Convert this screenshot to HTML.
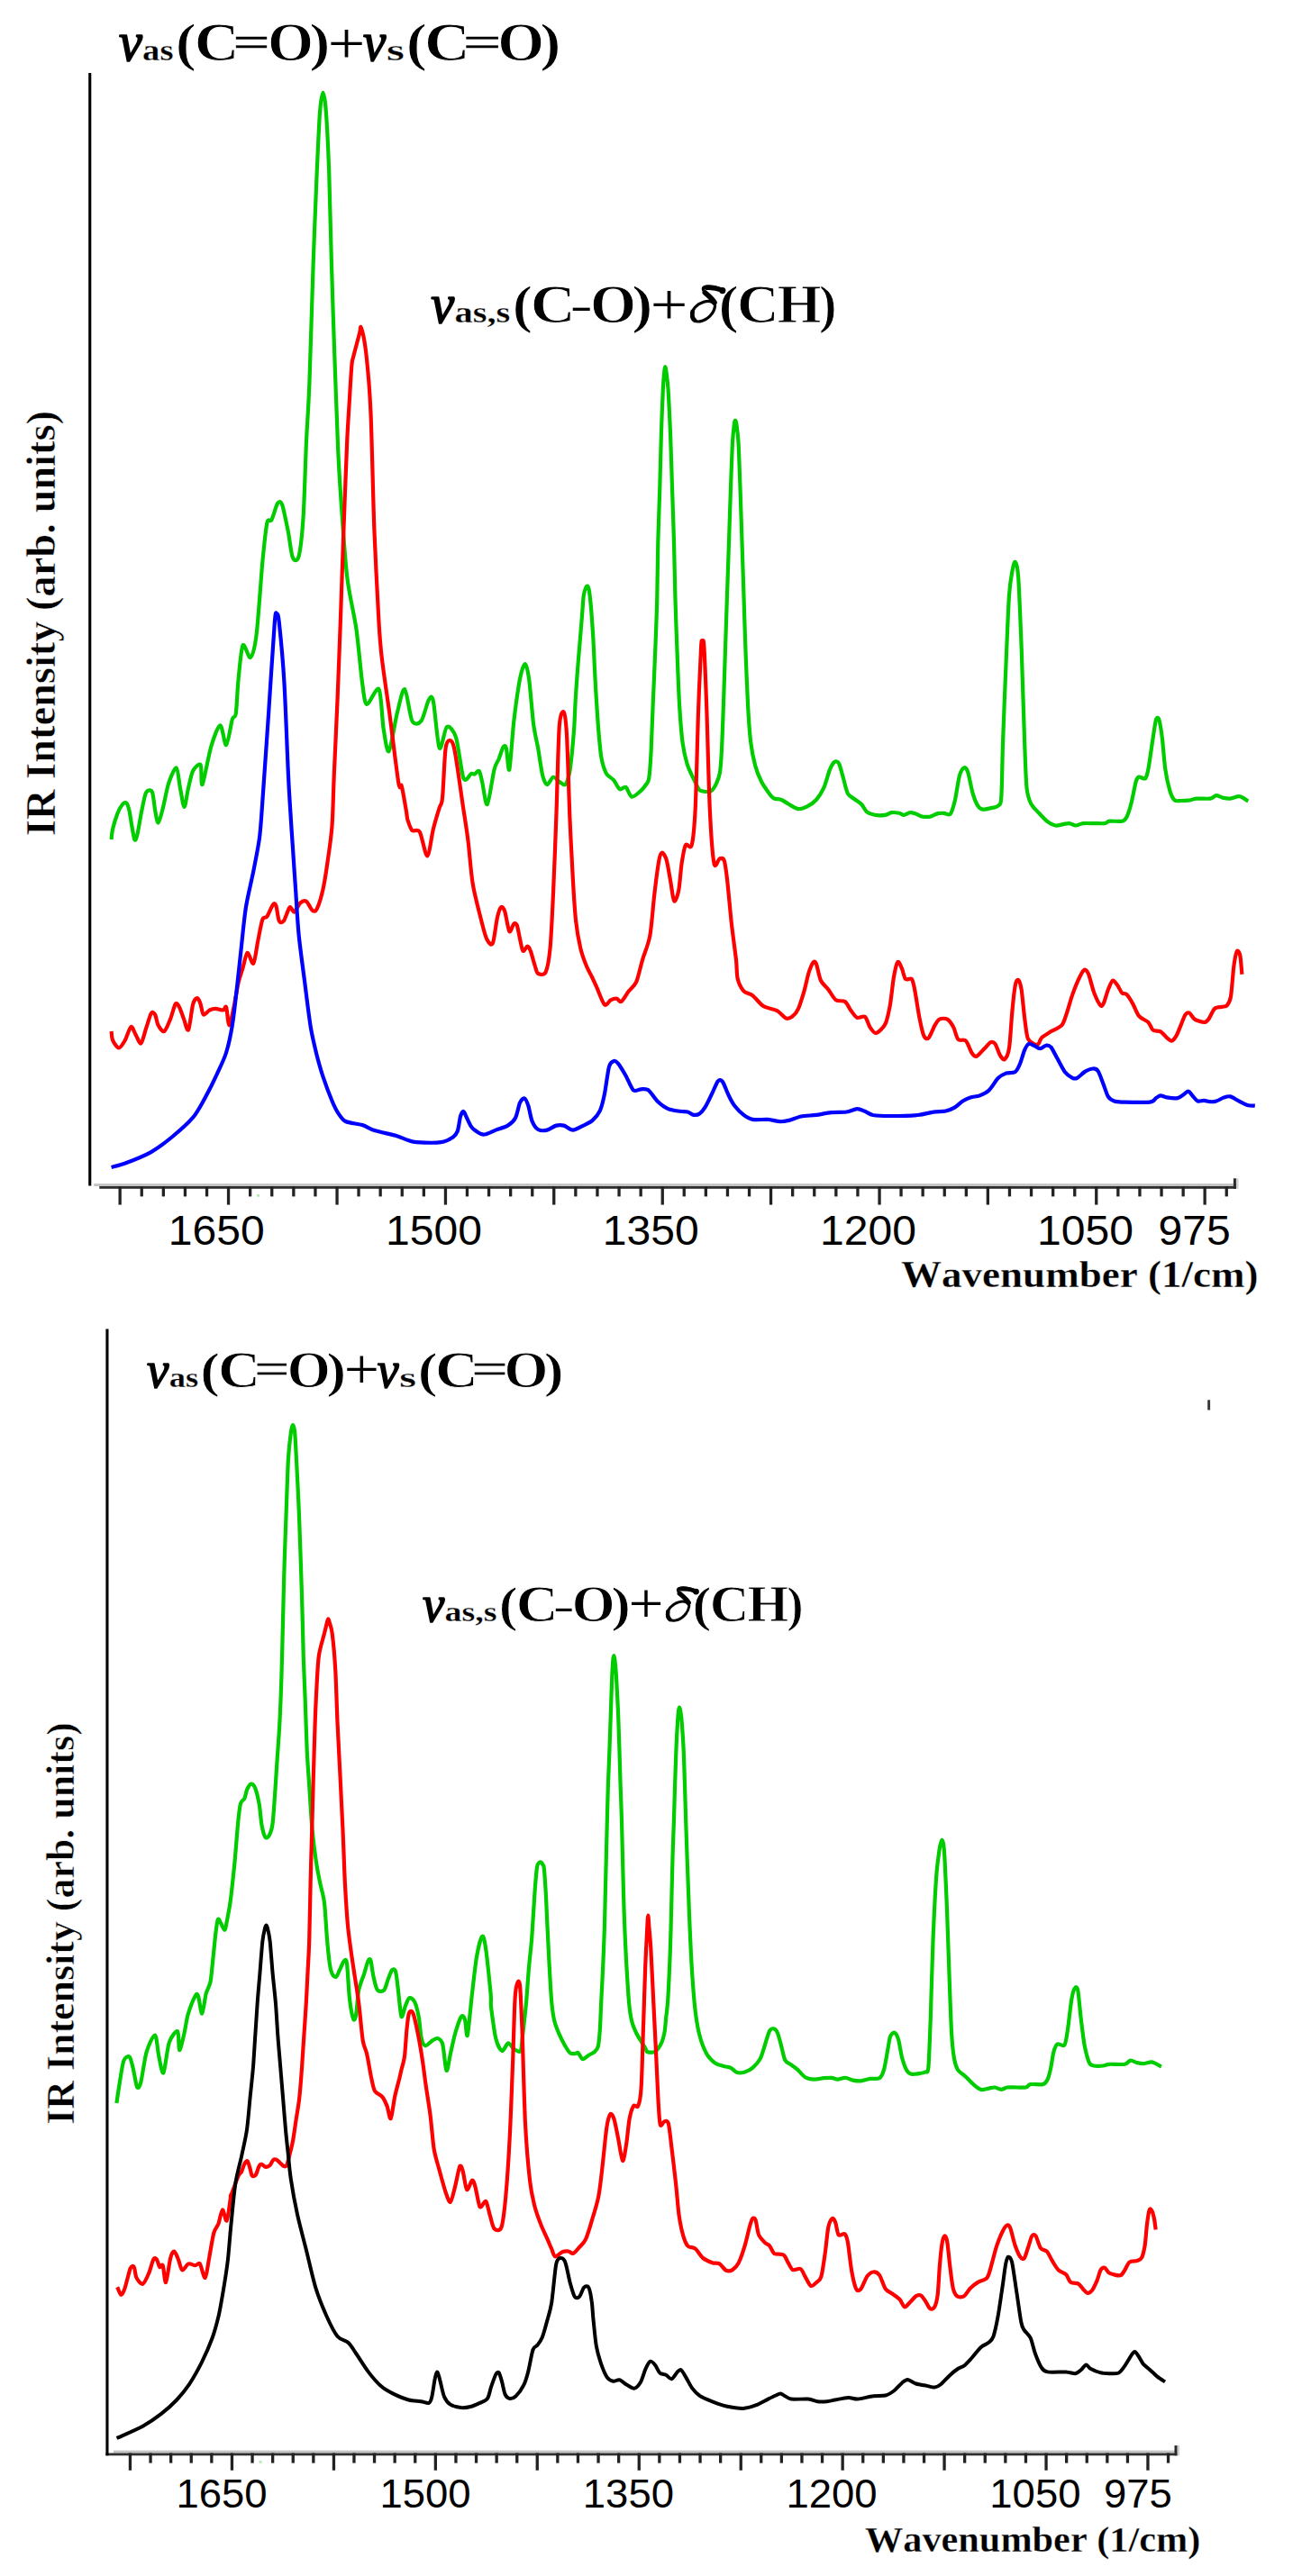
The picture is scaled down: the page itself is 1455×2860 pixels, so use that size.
<!DOCTYPE html>
<html><head><meta charset="utf-8"><title>IR spectra</title>
<style>
html,body{margin:0;padding:0;background:#fff;}
svg{display:block;}
text{font-family:"Liberation Serif",serif;fill:#000;}
.sb{font-family:"Liberation Serif",serif;font-weight:bold;}
.sbi{font-family:"Liberation Serif",serif;font-weight:bold;font-style:italic;}
.si{font-family:"Liberation Serif",serif;font-style:italic;}
.ss{font-family:"Liberation Sans",sans-serif;}
.sr{font-family:"Liberation Serif",serif;}
text{font-kerning:none;}
.c{fill:none;stroke-linejoin:round;stroke-linecap:butt;}
</style></head><body>
<svg width="1455" height="2860" viewBox="0 0 1455 2860">
<rect x="0" y="0" width="1455" height="2860" fill="#ffffff"/>
<rect x="104.2" y="1314.1" width="1267.7" height="2.9" fill="#c3c3c3"/>
<rect x="110.3" y="1317.0" width="1261.6" height="2.8" fill="#2e2e2e"/>
<rect x="131.5" y="1317.0" width="3.3" height="20.6" fill="#222"/>
<rect x="155.6" y="1317.0" width="3.3" height="11.4" fill="#222"/>
<rect x="179.7" y="1317.0" width="3.3" height="11.4" fill="#222"/>
<rect x="203.8" y="1317.0" width="3.3" height="11.4" fill="#222"/>
<rect x="227.9" y="1317.0" width="3.3" height="11.4" fill="#222"/>
<rect x="251.9" y="1317.0" width="3.3" height="20.6" fill="#222"/>
<rect x="276.0" y="1317.0" width="3.3" height="11.4" fill="#222"/>
<rect x="300.1" y="1317.0" width="3.3" height="11.4" fill="#222"/>
<rect x="324.2" y="1317.0" width="3.3" height="11.4" fill="#222"/>
<rect x="348.3" y="1317.0" width="3.3" height="11.4" fill="#222"/>
<rect x="372.4" y="1317.0" width="3.3" height="20.6" fill="#222"/>
<rect x="396.4" y="1317.0" width="3.3" height="11.4" fill="#222"/>
<rect x="420.5" y="1317.0" width="3.3" height="11.4" fill="#222"/>
<rect x="444.6" y="1317.0" width="3.3" height="11.4" fill="#222"/>
<rect x="468.7" y="1317.0" width="3.3" height="11.4" fill="#222"/>
<rect x="492.8" y="1317.0" width="3.3" height="20.6" fill="#222"/>
<rect x="516.8" y="1317.0" width="3.3" height="11.4" fill="#222"/>
<rect x="540.9" y="1317.0" width="3.3" height="11.4" fill="#222"/>
<rect x="565.0" y="1317.0" width="3.3" height="11.4" fill="#222"/>
<rect x="589.1" y="1317.0" width="3.3" height="11.4" fill="#222"/>
<rect x="613.1" y="1317.0" width="3.3" height="20.6" fill="#222"/>
<rect x="637.2" y="1317.0" width="3.3" height="11.4" fill="#222"/>
<rect x="661.3" y="1317.0" width="3.3" height="11.4" fill="#222"/>
<rect x="685.4" y="1317.0" width="3.3" height="11.4" fill="#222"/>
<rect x="709.5" y="1317.0" width="3.3" height="11.4" fill="#222"/>
<rect x="733.6" y="1317.0" width="3.3" height="20.6" fill="#222"/>
<rect x="757.6" y="1317.0" width="3.3" height="11.4" fill="#222"/>
<rect x="781.7" y="1317.0" width="3.3" height="11.4" fill="#222"/>
<rect x="805.8" y="1317.0" width="3.3" height="11.4" fill="#222"/>
<rect x="829.9" y="1317.0" width="3.3" height="11.4" fill="#222"/>
<rect x="853.9" y="1317.0" width="3.3" height="20.6" fill="#222"/>
<rect x="878.0" y="1317.0" width="3.3" height="11.4" fill="#222"/>
<rect x="902.1" y="1317.0" width="3.3" height="11.4" fill="#222"/>
<rect x="926.2" y="1317.0" width="3.3" height="11.4" fill="#222"/>
<rect x="950.3" y="1317.0" width="3.3" height="11.4" fill="#222"/>
<rect x="974.4" y="1317.0" width="3.3" height="20.6" fill="#222"/>
<rect x="998.4" y="1317.0" width="3.3" height="11.4" fill="#222"/>
<rect x="1022.5" y="1317.0" width="3.3" height="11.4" fill="#222"/>
<rect x="1046.6" y="1317.0" width="3.3" height="11.4" fill="#222"/>
<rect x="1070.7" y="1317.0" width="3.3" height="11.4" fill="#222"/>
<rect x="1094.7" y="1317.0" width="3.3" height="20.6" fill="#222"/>
<rect x="1118.8" y="1317.0" width="3.3" height="11.4" fill="#222"/>
<rect x="1142.9" y="1317.0" width="3.3" height="11.4" fill="#222"/>
<rect x="1167.0" y="1317.0" width="3.3" height="11.4" fill="#222"/>
<rect x="1191.1" y="1317.0" width="3.3" height="11.4" fill="#222"/>
<rect x="1215.1" y="1317.0" width="3.3" height="20.6" fill="#222"/>
<rect x="1239.2" y="1317.0" width="3.3" height="11.4" fill="#222"/>
<rect x="1263.3" y="1317.0" width="3.3" height="11.4" fill="#222"/>
<rect x="1287.4" y="1317.0" width="3.3" height="11.4" fill="#222"/>
<rect x="1311.5" y="1317.0" width="3.3" height="11.4" fill="#222"/>
<rect x="1335.5" y="1317.0" width="3.3" height="20.6" fill="#222"/>
<rect x="1359.6" y="1317.0" width="3.3" height="11.4" fill="#222"/>
<rect x="1371.9" y="1308.3" width="2.6" height="11.5" fill="#d0d0d0"/>
<rect x="1368.9" y="1308.3" width="3" height="11.5" fill="#2a2a2a"/>
<rect x="98.2" y="81.0" width="3.1" height="1235.5" fill="#000"/>
<rect x="126.0" y="2720.6" width="1180.5" height="2.9" fill="#c3c3c3"/>
<rect x="117.4" y="2723.5" width="1189.1" height="2.8" fill="#2e2e2e"/>
<rect x="142.8" y="2723.5" width="3.3" height="19.2" fill="#222"/>
<rect x="165.4" y="2723.5" width="3.3" height="11.1" fill="#222"/>
<rect x="188.0" y="2723.5" width="3.3" height="11.1" fill="#222"/>
<rect x="210.6" y="2723.5" width="3.3" height="11.1" fill="#222"/>
<rect x="233.2" y="2723.5" width="3.3" height="11.1" fill="#222"/>
<rect x="255.8" y="2723.5" width="3.3" height="19.2" fill="#222"/>
<rect x="278.4" y="2723.5" width="3.3" height="11.1" fill="#222"/>
<rect x="301.0" y="2723.5" width="3.3" height="11.1" fill="#222"/>
<rect x="323.6" y="2723.5" width="3.3" height="11.1" fill="#222"/>
<rect x="346.2" y="2723.5" width="3.3" height="11.1" fill="#222"/>
<rect x="368.8" y="2723.5" width="3.3" height="19.2" fill="#222"/>
<rect x="391.3" y="2723.5" width="3.3" height="11.1" fill="#222"/>
<rect x="413.9" y="2723.5" width="3.3" height="11.1" fill="#222"/>
<rect x="436.5" y="2723.5" width="3.3" height="11.1" fill="#222"/>
<rect x="459.1" y="2723.5" width="3.3" height="11.1" fill="#222"/>
<rect x="481.7" y="2723.5" width="3.3" height="19.2" fill="#222"/>
<rect x="504.3" y="2723.5" width="3.3" height="11.1" fill="#222"/>
<rect x="526.9" y="2723.5" width="3.3" height="11.1" fill="#222"/>
<rect x="549.5" y="2723.5" width="3.3" height="11.1" fill="#222"/>
<rect x="572.1" y="2723.5" width="3.3" height="11.1" fill="#222"/>
<rect x="594.6" y="2723.5" width="3.3" height="19.2" fill="#222"/>
<rect x="617.2" y="2723.5" width="3.3" height="11.1" fill="#222"/>
<rect x="639.8" y="2723.5" width="3.3" height="11.1" fill="#222"/>
<rect x="662.4" y="2723.5" width="3.3" height="11.1" fill="#222"/>
<rect x="685.0" y="2723.5" width="3.3" height="11.1" fill="#222"/>
<rect x="707.6" y="2723.5" width="3.3" height="19.2" fill="#222"/>
<rect x="730.2" y="2723.5" width="3.3" height="11.1" fill="#222"/>
<rect x="752.8" y="2723.5" width="3.3" height="11.1" fill="#222"/>
<rect x="775.4" y="2723.5" width="3.3" height="11.1" fill="#222"/>
<rect x="798.0" y="2723.5" width="3.3" height="11.1" fill="#222"/>
<rect x="820.6" y="2723.5" width="3.3" height="19.2" fill="#222"/>
<rect x="843.1" y="2723.5" width="3.3" height="11.1" fill="#222"/>
<rect x="865.7" y="2723.5" width="3.3" height="11.1" fill="#222"/>
<rect x="888.3" y="2723.5" width="3.3" height="11.1" fill="#222"/>
<rect x="910.9" y="2723.5" width="3.3" height="11.1" fill="#222"/>
<rect x="933.5" y="2723.5" width="3.3" height="19.2" fill="#222"/>
<rect x="956.1" y="2723.5" width="3.3" height="11.1" fill="#222"/>
<rect x="978.7" y="2723.5" width="3.3" height="11.1" fill="#222"/>
<rect x="1001.3" y="2723.5" width="3.3" height="11.1" fill="#222"/>
<rect x="1023.9" y="2723.5" width="3.3" height="11.1" fill="#222"/>
<rect x="1046.4" y="2723.5" width="3.3" height="19.2" fill="#222"/>
<rect x="1069.0" y="2723.5" width="3.3" height="11.1" fill="#222"/>
<rect x="1091.6" y="2723.5" width="3.3" height="11.1" fill="#222"/>
<rect x="1114.2" y="2723.5" width="3.3" height="11.1" fill="#222"/>
<rect x="1136.8" y="2723.5" width="3.3" height="11.1" fill="#222"/>
<rect x="1159.4" y="2723.5" width="3.3" height="19.2" fill="#222"/>
<rect x="1182.0" y="2723.5" width="3.3" height="11.1" fill="#222"/>
<rect x="1204.6" y="2723.5" width="3.3" height="11.1" fill="#222"/>
<rect x="1227.2" y="2723.5" width="3.3" height="11.1" fill="#222"/>
<rect x="1249.8" y="2723.5" width="3.3" height="11.1" fill="#222"/>
<rect x="1272.3" y="2723.5" width="3.3" height="19.2" fill="#222"/>
<rect x="1294.9" y="2723.5" width="3.3" height="11.1" fill="#222"/>
<rect x="1306.5" y="2715.1" width="2.6" height="11.2" fill="#d0d0d0"/>
<rect x="1303.5" y="2715.1" width="3" height="11.2" fill="#2a2a2a"/>
<rect x="117.4" y="1475.5" width="3.1" height="1250.8" fill="#000"/>
<rect x="1340.2" y="1554.3" width="2.9" height="11.2" fill="#383838"/>
<rect x="285" y="1326" width="3" height="2.8" fill="#b4ecb4"/><rect x="287.5" y="2732" width="3" height="2.8" fill="#b4ecb4"/>
<path class="c" stroke="#00cc00" stroke-width="4.2" d="M123.6 932.0C123.8 930.3 124.2 924.1 125.2 920.0C126.2 915.9 128.8 907.3 130.3 903.4C131.8 899.5 134.6 894.7 136.0 893.0C137.4 891.3 139.2 890.5 140.3 891.5C141.4 892.5 142.6 896.2 143.5 900.0C144.4 903.8 145.6 913.4 146.5 918.0C147.4 922.6 148.6 931.4 149.5 932.5C150.4 933.6 151.4 930.5 152.5 926.0C153.6 921.5 155.7 907.6 157.1 901.0C158.5 894.4 160.4 883.1 162.1 880.0C163.8 876.9 167.5 876.4 168.9 879.3C170.3 882.2 171.2 895.1 172.2 900.0C173.2 904.9 174.4 913.8 175.6 913.5C176.8 913.2 178.9 904.3 180.6 898.0C182.3 891.7 185.1 875.7 187.3 869.2C189.5 862.7 193.9 851.6 195.7 852.4C197.5 853.2 198.7 868.8 200.0 875.0C201.3 881.2 203.2 896.0 204.5 896.0C205.8 896.0 207.6 880.7 209.0 875.0C210.4 869.3 212.3 859.5 214.2 855.8C216.1 852.1 221.1 846.9 222.6 849.1C224.1 851.3 222.9 873.8 224.6 870.9C226.3 868.0 231.5 838.3 234.3 828.9C237.1 819.5 242.0 805.7 244.4 805.4C246.8 805.2 249.2 828.2 251.1 827.2C253.0 826.3 256.3 803.8 257.8 798.7C259.3 793.7 260.9 798.2 261.8 792.0C262.8 785.8 263.4 765.9 264.5 755.1C265.6 744.3 267.6 720.1 269.5 716.5C271.4 712.9 275.8 731.6 277.9 729.9C280.1 728.3 282.7 719.9 284.6 704.8C286.5 689.7 289.7 642.0 291.3 624.2C293.0 606.5 294.9 587.3 296.4 580.6C297.8 573.9 299.7 580.4 301.4 577.2C303.1 574.1 306.4 561.2 308.1 558.8C309.8 556.4 311.5 555.9 313.2 560.5C314.8 565.0 318.2 582.3 319.9 590.7C321.5 599.1 323.2 615.4 324.9 619.2C326.6 623.0 329.9 624.0 331.6 617.5C333.3 611.0 335.4 592.1 336.6 573.9C337.8 555.7 339.0 511.2 340.0 490.0C341.0 468.8 342.3 454.0 343.4 425.6C344.5 397.2 346.5 324.9 347.7 291.3C348.9 257.8 350.7 214.6 351.7 190.7C352.8 166.7 354.1 136.1 355.1 123.6C356.1 111.0 357.5 102.8 358.5 102.8C359.4 102.8 360.9 111.0 361.8 123.6C362.8 136.1 364.3 166.7 365.2 190.7C366.0 214.6 367.0 262.6 367.9 291.3C368.7 320.1 370.2 362.3 371.2 392.0C372.3 421.7 374.2 475.8 375.2 499.4C376.3 523.0 377.2 536.9 378.6 557.1C380.0 577.3 382.9 620.9 385.3 641.0C387.7 661.1 393.0 681.3 395.4 698.1C397.8 714.8 400.4 746.5 402.1 758.5C403.8 770.4 404.5 781.0 407.1 781.9C409.8 782.9 417.9 761.3 420.5 765.2C423.2 769.0 424.0 799.0 425.6 808.8C427.2 818.6 429.5 836.4 431.6 834.0C433.8 831.6 438.2 801.8 440.7 792.0C443.2 782.2 446.7 764.0 449.1 765.2C451.5 766.4 454.8 795.4 457.4 800.4C460.1 805.4 464.9 803.8 467.5 800.4C470.2 797.0 474.0 780.0 475.9 776.9C477.8 773.8 479.3 770.9 480.9 778.6C482.6 786.3 485.5 826.5 487.7 830.6C489.8 834.7 493.4 808.8 496.0 807.1C498.7 805.4 503.5 810.7 506.1 818.9C508.7 827.0 512.1 858.4 514.5 864.2C516.9 869.9 521.1 859.8 522.9 859.1C524.6 858.5 525.4 859.9 526.7 859.5C528.0 859.0 530.5 854.9 531.7 856.1C532.9 857.3 533.8 862.6 535.1 867.9C536.4 873.1 538.9 894.9 540.8 893.0C542.7 891.1 546.7 861.6 548.5 854.4C550.3 847.2 552.1 846.3 553.6 842.7C555.0 839.1 557.4 830.9 558.6 829.3C559.8 827.6 561.0 827.3 561.9 830.9C562.9 834.5 564.1 858.7 565.3 854.4C566.5 850.1 568.7 815.1 570.3 800.7C572.0 786.4 575.3 762.9 577.0 753.8C578.8 744.7 581.3 737.0 582.8 737.0C584.2 737.0 585.8 744.2 587.1 753.8C588.5 763.3 590.7 793.1 592.1 804.1C593.6 815.1 595.7 822.8 597.2 830.9C598.6 839.1 600.8 855.4 602.2 861.1C603.7 866.9 605.6 871.0 607.2 871.2C608.9 871.4 612.0 863.3 614.0 862.8C615.9 862.3 618.8 866.7 620.7 867.9C622.6 869.1 625.8 872.6 627.4 871.2C629.0 869.8 631.1 862.1 632.0 858.2C632.9 854.3 633.4 848.5 634.0 843.6C634.6 838.7 635.4 829.7 635.9 824.2C636.4 818.7 637.0 811.7 637.4 804.8C637.8 797.9 638.3 783.9 638.8 775.6C639.3 767.3 640.2 754.8 640.8 746.5C641.4 738.2 642.5 725.7 643.2 717.4C643.9 709.1 644.9 696.4 645.6 688.3C646.3 680.2 647.1 666.1 647.8 661.0C648.5 655.9 649.6 654.0 650.2 652.5C650.8 651.0 651.4 650.5 651.9 650.6C652.4 650.7 653.0 652.0 653.4 653.5C653.8 655.0 654.2 657.4 654.6 661.0C655.0 664.6 655.8 671.8 656.3 678.5C656.8 685.2 657.8 699.4 658.3 707.7C658.8 716.0 659.3 728.5 659.7 736.8C660.1 745.1 660.7 757.6 661.2 765.9C661.7 774.2 662.6 787.4 663.1 795.0C663.6 802.6 664.4 813.1 665.0 819.3C665.6 825.5 666.3 834.1 667.0 838.7C667.7 843.3 668.9 848.3 669.9 851.4C670.9 854.5 672.2 858.0 673.8 860.1C675.4 862.2 679.1 863.9 681.1 866.2C683.1 868.5 685.9 875.1 687.8 876.2C689.7 877.3 692.6 872.7 694.5 873.9C696.4 875.1 698.8 884.1 701.2 884.6C703.6 885.2 709.1 879.7 711.3 877.9C713.4 876.2 714.8 874.2 716.1 872.3C717.4 870.4 719.3 869.8 720.2 864.3C721.1 858.8 722.0 845.5 722.6 834.0C723.2 822.5 723.9 799.4 724.6 783.5C725.3 767.6 726.5 740.3 727.2 723.0C727.9 705.7 728.9 679.8 729.3 662.5C729.7 645.2 729.9 619.3 730.3 602.0C730.7 584.7 731.8 558.7 732.3 541.4C732.8 524.1 733.4 496.8 733.9 480.9C734.4 465.0 735.4 440.3 735.9 430.4C736.4 420.5 737.1 414.8 737.4 411.5C737.7 408.2 738.0 407.2 738.3 407.2C738.6 407.2 738.9 408.2 739.3 411.5C739.7 414.8 740.7 420.5 741.4 430.4C742.1 440.3 743.3 465.0 744.0 480.9C744.7 496.8 745.4 524.1 746.0 541.4C746.6 558.7 747.5 584.7 748.0 602.0C748.5 619.3 748.9 645.2 749.4 662.5C749.9 679.8 750.8 705.7 751.5 723.0C752.2 740.3 753.2 769.1 754.1 783.5C755.0 797.9 756.3 814.7 757.5 823.9C758.7 833.1 760.9 842.3 762.6 848.1C764.3 853.9 767.7 860.3 769.6 864.3C771.5 868.3 774.3 874.4 775.7 876.4C777.1 878.4 777.8 878.1 779.7 878.4C781.6 878.7 786.6 879.6 788.8 878.4C791.0 877.2 793.4 873.2 794.8 870.3C796.2 867.4 798.0 863.4 798.9 858.2C799.8 853.0 800.3 844.7 800.9 834.0C801.5 823.3 802.3 799.4 802.9 783.5C803.5 767.6 804.3 740.3 804.9 723.0C805.5 705.7 806.3 679.8 806.9 662.5C807.5 645.2 808.4 619.3 809.0 602.0C809.6 584.7 810.4 557.3 811.0 541.4C811.6 525.5 812.4 501.2 813.0 491.0C813.6 480.8 814.6 473.5 815.0 470.0C815.4 466.5 815.7 466.8 816.0 466.8C816.3 466.8 816.7 466.5 817.2 470.0C817.7 473.5 818.9 480.8 819.5 491.0C820.1 501.2 820.9 525.5 821.5 541.4C822.1 557.3 822.9 584.7 823.5 602.0C824.1 619.3 824.9 645.2 825.5 662.5C826.1 679.8 826.8 705.7 827.5 723.0C828.2 740.3 829.3 769.1 830.1 783.5C830.9 797.9 832.0 814.4 833.2 823.9C834.4 833.4 836.5 843.8 838.2 850.1C839.9 856.4 843.1 864.0 845.3 868.3C847.5 872.6 851.4 877.8 853.3 880.4C855.2 883.0 856.9 885.2 858.9 886.3C860.9 887.4 864.9 887.0 867.3 888.0C869.7 888.9 873.1 891.6 875.7 893.0C878.3 894.5 882.9 897.7 885.8 898.1C888.6 898.4 893.0 896.8 895.8 895.4C898.7 893.9 903.3 891.0 905.9 888.0C908.5 885.0 912.1 879.4 914.3 874.6C916.5 869.8 919.3 858.5 921.0 854.4C922.7 850.4 924.6 847.0 926.0 846.0C927.5 845.1 929.6 845.1 931.1 847.7C932.5 850.4 934.7 859.7 936.1 864.5C937.5 869.3 939.2 877.9 941.1 881.3C943.1 884.6 947.4 886.3 949.5 888.0C951.7 889.7 954.5 891.1 956.2 893.0C958.0 894.9 960.0 899.7 962.0 901.4C964.1 903.1 967.7 904.3 970.6 904.8C973.5 905.3 979.9 905.2 982.6 904.8C985.3 904.4 987.3 902.4 989.5 902.1C991.7 901.8 996.1 902.4 998.1 902.8C1000.0 903.2 1001.5 904.9 1003.2 904.8C1004.9 904.7 1008.1 902.2 1010.1 902.1C1012.0 901.9 1015.0 903.2 1016.9 903.8C1018.9 904.4 1021.6 906.2 1023.8 906.6C1026.0 906.9 1029.9 907.0 1032.4 906.6C1034.8 906.1 1038.8 903.7 1041.0 903.1C1043.2 902.6 1045.9 902.7 1047.8 902.8C1049.8 902.9 1053.0 905.9 1054.7 903.8C1056.4 901.8 1058.4 894.5 1059.9 888.4C1061.3 882.2 1063.5 866.0 1065.0 860.9C1066.5 855.8 1068.8 852.8 1070.2 852.3C1071.5 851.8 1072.9 853.3 1074.3 857.5C1075.6 861.6 1078.1 876.1 1079.8 881.5C1081.4 886.9 1084.0 892.8 1085.6 895.2C1087.2 897.7 1088.5 898.4 1090.7 898.7C1093.0 898.9 1098.6 897.5 1101.0 896.9C1103.5 896.4 1106.4 896.3 1107.9 894.5C1109.4 892.8 1110.6 895.1 1111.3 884.9C1112.1 874.7 1112.3 844.2 1113.1 823.1C1113.8 802.0 1115.5 760.4 1116.5 737.3C1117.5 714.3 1118.9 676.5 1119.9 661.8C1120.9 647.1 1122.4 639.7 1123.4 634.3C1124.3 628.9 1125.8 623.0 1126.8 624.0C1127.8 625.0 1129.2 627.5 1130.2 641.2C1131.2 654.9 1132.7 694.2 1133.7 720.2C1134.6 746.1 1136.3 801.1 1137.1 823.1C1137.9 845.2 1138.5 864.8 1139.5 874.6C1140.5 884.4 1142.1 887.9 1144.0 891.8C1145.8 895.7 1149.8 899.2 1152.5 902.1C1155.2 905.0 1160.1 910.3 1162.8 912.4C1165.5 914.5 1169.0 916.1 1171.4 916.5C1173.9 916.9 1177.8 915.5 1180.0 915.1C1182.2 914.8 1184.9 913.9 1186.9 914.1C1188.8 914.3 1191.5 916.5 1193.7 916.5C1195.9 916.5 1199.4 914.5 1202.3 914.1C1205.3 913.8 1210.9 914.1 1214.3 914.1C1217.8 914.1 1223.9 914.5 1226.3 914.1C1228.8 913.8 1228.8 912.0 1231.5 911.7C1234.2 911.4 1242.5 912.3 1245.2 911.7C1247.9 911.1 1248.9 910.1 1250.4 907.2C1251.8 904.4 1254.1 897.4 1255.5 891.8C1257.0 886.2 1259.5 871.9 1260.7 867.8C1261.9 863.6 1262.6 863.1 1264.1 862.6C1265.6 862.1 1269.5 865.6 1271.0 864.3C1272.4 863.1 1273.2 860.4 1274.4 854.0C1275.6 847.7 1278.3 827.6 1279.6 819.7C1280.8 811.9 1282.0 802.0 1283.0 799.1C1284.0 796.2 1285.4 796.2 1286.4 799.1C1287.4 802.0 1288.9 811.9 1289.9 819.7C1290.8 827.6 1292.1 845.7 1293.3 854.0C1294.5 862.4 1297.0 873.2 1298.4 878.1C1299.9 883.0 1301.9 886.8 1303.6 888.4C1305.3 889.9 1308.0 889.0 1310.5 889.0C1312.9 889.0 1318.3 888.7 1320.8 888.4C1323.2 888.0 1324.4 886.9 1327.6 886.6C1330.8 886.4 1339.9 887.1 1343.1 886.6C1346.3 886.2 1348.0 883.4 1349.9 883.2C1351.9 883.1 1354.6 885.1 1356.8 885.6C1359.0 886.1 1362.7 886.8 1365.4 886.6C1368.1 886.4 1372.8 883.9 1375.7 884.2C1378.5 884.6 1383.9 888.7 1385.3 889.4"/>
<path class="c" stroke="#ff0000" stroke-width="4.2" d="M123.6 1145.0C123.8 1146.5 124.0 1152.5 125.2 1155.1C126.4 1157.7 130.0 1163.5 131.9 1163.5C133.9 1163.5 136.7 1158.5 138.7 1155.1C140.6 1151.7 143.7 1141.0 145.4 1140.0C147.0 1139.0 148.8 1145.8 150.4 1148.4C152.0 1151.0 154.8 1159.4 156.4 1158.5C158.1 1157.5 160.5 1146.5 162.1 1141.7C163.8 1136.9 166.4 1127.1 167.9 1124.9C169.3 1122.7 171.1 1124.7 172.2 1126.6C173.3 1128.5 174.1 1135.7 175.6 1138.3C177.0 1141.0 180.4 1146.0 182.3 1145.0C184.2 1144.1 187.2 1135.9 189.0 1131.6C190.8 1127.3 193.3 1116.7 194.7 1114.8C196.1 1112.9 197.7 1115.8 199.1 1118.2C200.4 1120.6 202.7 1128.0 204.1 1131.6C205.5 1135.2 207.7 1145.8 209.1 1143.4C210.6 1141.0 212.7 1119.9 214.2 1114.8C215.6 1109.8 218.0 1108.1 219.2 1108.1C220.4 1108.1 221.6 1112.2 222.6 1114.8C223.5 1117.5 224.5 1125.6 225.9 1126.6C227.3 1127.5 230.7 1122.5 232.6 1121.5C234.5 1120.6 237.2 1119.9 239.3 1119.9C241.5 1119.9 246.0 1121.8 247.7 1121.5C249.4 1121.3 250.1 1115.8 251.1 1118.2C252.0 1120.6 253.2 1138.3 254.4 1138.3C255.6 1138.3 258.0 1124.9 259.5 1118.2C260.9 1111.5 263.1 1097.6 264.5 1091.3C265.9 1085.1 268.1 1079.4 269.5 1074.6C271.0 1069.8 272.9 1058.5 274.6 1057.8C276.2 1057.1 279.6 1071.4 281.3 1069.5C283.0 1067.6 284.9 1051.3 286.3 1044.4C287.7 1037.4 289.9 1024.7 291.3 1020.9C292.8 1017.0 294.7 1019.9 296.4 1017.5C298.1 1015.1 301.6 1005.8 303.1 1004.1C304.5 1002.4 305.5 1003.1 306.4 1005.8C307.4 1008.4 308.6 1020.2 309.8 1022.6C311.0 1024.9 313.2 1024.7 314.8 1022.6C316.5 1020.4 319.9 1008.9 321.5 1007.4C323.2 1006.0 324.9 1013.2 326.6 1012.5C328.3 1011.8 331.4 1004.1 333.3 1002.4C335.2 1000.7 338.1 999.5 340.0 1000.7C341.9 1001.9 345.0 1009.6 346.7 1010.8C348.4 1012.0 350.1 1012.5 351.7 1009.1C353.4 1005.8 356.8 994.7 358.5 987.3C360.1 979.9 362.1 967.2 363.5 957.1C364.9 947.0 367.5 930.8 368.5 916.8C369.6 902.8 369.9 879.3 370.8 859.1C371.7 838.9 373.6 799.2 374.6 775.2C375.6 751.2 376.8 717.7 377.8 691.3C378.8 664.9 380.2 619.5 381.3 590.7C382.4 561.9 384.2 511.2 385.2 490.0C386.2 468.8 387.3 454.1 388.0 442.0C388.7 429.9 389.8 411.6 390.4 405.0C391.0 398.4 391.4 399.3 392.2 396.0C393.0 392.7 394.8 386.1 395.8 382.2C396.8 378.3 398.6 371.7 399.3 369.0C400.0 366.3 399.9 361.2 400.7 363.5C401.6 365.8 404.2 376.4 405.4 385.3C406.7 394.2 408.6 415.0 409.5 425.6C410.3 436.1 411.0 448.6 411.5 459.1C412.0 469.7 412.2 480.6 412.8 499.4C413.4 518.2 414.4 563.3 415.5 590.7C416.6 618.1 419.3 671.2 420.5 691.3C421.7 711.5 422.2 717.2 423.9 731.6C425.6 746.0 429.6 772.4 432.3 792.0C434.9 811.7 440.4 857.7 442.3 869.2C444.3 880.7 444.5 868.2 445.7 872.6C446.9 876.9 449.8 894.0 450.7 899.4C451.7 904.8 451.5 906.9 452.4 910.1C453.4 913.3 455.5 920.0 457.4 921.9C459.4 923.8 463.4 919.5 465.8 923.6C468.2 927.6 472.1 950.9 474.2 950.4C476.4 949.9 479.0 927.9 480.9 920.2C482.9 912.5 486.2 901.6 487.7 896.7C489.1 891.8 490.0 895.2 491.0 886.0C492.0 876.8 493.3 841.4 494.4 832.3C495.5 823.2 497.3 822.2 498.7 822.2C500.2 822.2 502.2 821.3 504.4 832.3C506.7 843.3 512.3 884.9 514.5 899.4C516.7 913.9 518.1 922.0 519.5 933.6C521.0 945.2 522.6 968.4 524.6 980.6C526.5 992.8 531.2 1010.0 533.4 1018.9C535.6 1027.7 538.2 1038.3 540.1 1042.3C542.1 1046.4 545.2 1050.7 546.8 1047.4C548.5 1044.0 550.5 1024.6 551.9 1018.9C553.2 1013.1 555.0 1008.1 556.2 1007.1C557.4 1006.2 559.0 1008.3 560.3 1012.1C561.6 1016.0 563.9 1032.0 565.3 1034.0C566.7 1035.9 569.1 1026.5 570.3 1025.6C571.5 1024.6 572.7 1024.9 573.7 1027.2C574.7 1029.6 576.1 1038.3 577.0 1042.3C578.0 1046.4 579.2 1054.6 580.4 1055.8C581.6 1057.0 584.2 1050.7 585.4 1050.7C586.6 1050.7 587.6 1052.7 588.8 1055.8C590.0 1058.9 592.6 1069.0 593.8 1072.6C595.0 1076.1 595.5 1080.0 597.2 1080.9C598.9 1081.9 603.7 1083.3 605.6 1079.3C607.5 1075.2 609.4 1064.9 610.6 1052.4C611.8 1040.0 613.0 1012.6 614.0 992.0C614.9 971.4 616.4 934.5 617.3 908.1C618.3 881.8 619.5 824.2 620.7 807.4C621.9 790.7 624.5 789.2 625.7 790.7C626.9 792.1 628.1 800.7 629.1 817.5C630.0 834.3 631.5 885.6 632.4 908.1C633.4 930.7 634.8 958.9 635.8 975.2C636.7 991.5 637.9 1011.2 639.1 1022.2C640.3 1033.2 642.5 1045.2 644.2 1052.4C645.8 1059.6 649.0 1067.8 650.9 1072.6C652.8 1077.3 655.9 1082.5 657.6 1086.0C659.3 1089.5 660.7 1092.7 662.6 1096.9C664.5 1101.1 668.8 1113.5 671.0 1115.4C673.2 1117.3 675.8 1111.3 677.7 1110.3C679.6 1109.4 682.8 1108.4 684.4 1108.7C686.1 1108.9 687.5 1113.2 689.5 1112.0C691.4 1110.8 695.5 1103.4 697.9 1100.3C700.2 1097.2 704.1 1095.1 706.2 1090.2C708.4 1085.3 710.8 1073.2 713.0 1065.8C715.1 1058.5 719.4 1049.5 721.3 1039.0C723.3 1028.4 724.9 1004.0 726.4 992.0C727.8 980.0 730.2 961.6 731.4 955.1C732.6 948.6 733.6 946.7 734.8 946.7C736.0 946.7 738.5 950.5 739.8 955.1C741.1 959.7 743.0 972.1 744.2 978.6C745.4 985.1 746.9 999.0 748.2 1000.4C749.5 1001.8 752.0 994.7 753.2 988.7C754.4 982.7 755.5 965.6 756.6 958.5C757.7 951.3 759.4 941.2 760.9 938.3C762.5 935.4 766.1 944.1 767.7 938.3C769.2 932.6 770.6 919.1 771.7 898.1C772.7 877.0 774.1 816.3 775.0 790.7C775.9 765.0 777.4 729.7 778.1 718.5C778.7 707.3 779.3 712.1 779.7 712.1C780.2 712.1 780.7 707.3 781.4 718.5C782.1 729.7 783.5 765.0 784.4 790.7C785.3 816.3 786.6 874.1 787.8 898.1C788.9 922.0 790.9 950.5 792.5 958.5C794.0 966.4 796.9 953.9 798.5 953.4C800.1 952.9 802.4 952.0 803.6 955.1C804.8 958.2 805.7 965.2 806.9 975.2C808.1 985.3 810.5 1012.6 811.9 1025.6C813.4 1038.5 816.0 1057.1 817.0 1065.8C817.9 1074.6 817.5 1081.9 818.7 1086.8C819.9 1091.8 823.0 1097.6 825.4 1100.3C827.8 1102.9 832.3 1102.9 835.4 1105.3C838.6 1107.7 843.3 1114.7 847.2 1117.0C851.0 1119.4 858.7 1120.2 862.3 1122.1C865.9 1124.0 870.0 1129.5 872.3 1130.5C874.7 1131.4 877.1 1130.2 879.1 1128.8C881.0 1127.4 883.9 1124.5 885.8 1120.4C887.7 1116.3 890.8 1106.0 892.5 1100.3C894.2 1094.5 896.1 1084.7 897.5 1080.1C899.0 1075.6 901.4 1069.8 902.6 1068.4C903.7 1067.0 904.7 1067.2 905.9 1070.1C907.1 1072.9 909.0 1084.4 910.9 1088.5C912.9 1092.6 916.9 1095.5 919.3 1098.6C921.7 1101.7 925.1 1108.4 927.7 1110.3C930.4 1112.3 935.4 1110.3 937.8 1112.0C940.2 1113.7 942.6 1119.5 944.5 1122.1C946.4 1124.6 949.0 1128.8 951.2 1129.8C953.4 1130.8 957.9 1127.3 959.9 1128.8C962.0 1130.3 963.7 1137.5 965.4 1140.2C967.2 1142.8 969.9 1147.5 972.3 1147.0C974.8 1146.5 980.4 1141.1 982.6 1136.7C984.8 1132.3 986.4 1123.5 987.8 1116.1C989.1 1108.8 990.7 1092.1 991.9 1085.2C993.1 1078.4 995.1 1069.5 996.3 1068.1C997.6 1066.6 999.6 1072.2 1000.8 1074.9C1002.0 1077.6 1003.4 1085.2 1004.9 1086.9C1006.5 1088.7 1010.3 1085.2 1011.8 1086.9C1013.3 1088.7 1014.0 1092.8 1015.2 1099.0C1016.5 1105.1 1018.9 1122.5 1020.4 1129.9C1021.8 1137.2 1024.1 1147.3 1025.5 1150.4C1027.0 1153.6 1029.0 1153.9 1030.7 1152.2C1032.4 1150.4 1035.8 1141.4 1037.5 1138.4C1039.3 1135.5 1040.7 1132.5 1042.7 1131.6C1044.6 1130.6 1049.1 1130.3 1051.3 1131.6C1053.5 1132.8 1056.4 1137.0 1058.1 1140.2C1059.9 1143.3 1061.3 1151.7 1063.3 1153.9C1065.2 1156.1 1069.7 1153.4 1071.9 1155.6C1074.1 1157.8 1077.0 1166.9 1078.7 1169.3C1080.4 1171.8 1081.9 1173.5 1083.9 1172.8C1085.8 1172.0 1090.3 1166.4 1092.5 1164.2C1094.7 1162.0 1097.6 1158.1 1099.3 1157.3C1101.0 1156.6 1103.0 1157.1 1104.5 1159.0C1106.0 1161.0 1108.2 1168.6 1109.6 1171.0C1111.1 1173.5 1113.3 1177.2 1114.8 1176.2C1116.2 1175.2 1118.7 1171.8 1119.9 1164.2C1121.2 1156.6 1122.4 1133.0 1123.4 1123.0C1124.3 1112.9 1125.8 1098.8 1126.8 1093.8C1127.8 1088.8 1129.2 1087.2 1130.2 1088.0C1131.2 1088.7 1132.7 1093.0 1133.7 1099.0C1134.6 1104.9 1136.1 1122.3 1137.1 1129.9C1138.1 1137.5 1139.1 1148.0 1140.5 1152.2C1142.0 1156.3 1145.7 1158.1 1147.4 1159.0C1149.1 1160.0 1151.3 1160.0 1152.5 1159.0C1153.8 1158.1 1154.0 1154.1 1156.0 1152.2C1157.9 1150.2 1163.1 1147.3 1166.3 1145.3C1169.5 1143.3 1175.8 1141.1 1178.3 1138.4C1180.7 1135.7 1181.7 1131.3 1183.4 1126.4C1185.2 1121.5 1188.1 1110.2 1190.3 1104.1C1192.5 1098.0 1196.9 1087.4 1198.9 1083.5C1200.8 1079.6 1202.7 1076.9 1204.0 1076.6C1205.4 1076.4 1206.7 1078.1 1208.2 1081.8C1209.6 1085.5 1212.5 1097.5 1214.3 1102.4C1216.2 1107.3 1219.7 1114.4 1221.2 1116.1C1222.7 1117.8 1223.4 1116.9 1224.6 1114.4C1225.9 1112.0 1228.3 1102.6 1229.8 1099.0C1231.3 1095.3 1233.5 1089.4 1234.9 1088.7C1236.4 1087.9 1238.6 1091.8 1240.1 1093.8C1241.6 1095.8 1243.8 1100.9 1245.2 1102.4C1246.7 1103.9 1248.7 1102.4 1250.4 1104.1C1252.1 1105.8 1255.3 1111.0 1257.2 1114.4C1259.2 1117.8 1261.7 1125.2 1264.1 1128.1C1266.6 1131.1 1272.2 1132.8 1274.4 1135.0C1276.6 1137.2 1277.6 1142.1 1279.6 1143.6C1281.5 1145.1 1285.9 1144.1 1288.1 1145.3C1290.3 1146.5 1293.3 1150.7 1295.0 1152.2C1296.7 1153.6 1298.7 1155.8 1300.2 1155.6C1301.6 1155.4 1303.8 1152.9 1305.3 1150.4C1306.8 1148.0 1309.0 1141.9 1310.5 1138.4C1311.9 1135.0 1314.2 1128.4 1315.6 1126.4C1317.0 1124.5 1318.6 1124.0 1320.1 1124.7C1321.5 1125.4 1323.6 1130.1 1325.9 1131.6C1328.2 1133.0 1334.0 1135.0 1336.2 1135.0C1338.4 1135.0 1339.6 1133.8 1341.3 1131.6C1343.1 1129.4 1346.0 1121.5 1348.2 1119.6C1350.4 1117.6 1354.8 1118.3 1356.8 1117.8C1358.8 1117.3 1360.6 1117.8 1361.9 1116.1C1363.3 1114.4 1365.0 1112.2 1366.1 1105.8C1367.1 1099.4 1368.5 1078.6 1369.5 1071.5C1370.5 1064.4 1372.0 1057.5 1372.9 1056.0C1373.9 1054.6 1375.6 1057.5 1376.4 1061.2C1377.1 1064.9 1378.1 1078.8 1378.4 1081.8"/>
<path class="c" stroke="#0000ff" stroke-width="4.2" d="M123.6 1296.0C126.0 1295.3 134.1 1293.4 140.3 1291.0C146.6 1288.6 160.0 1283.3 167.2 1279.3C174.4 1275.2 184.0 1268.0 190.7 1262.5C197.4 1257.0 208.9 1246.9 214.2 1240.7C219.4 1234.4 223.7 1225.8 227.6 1218.9C231.4 1211.9 237.7 1199.2 241.0 1192.0C244.4 1184.8 248.7 1176.2 251.1 1168.5C253.5 1160.9 256.1 1148.4 257.8 1138.3C259.5 1128.3 261.4 1110.5 262.8 1098.1C264.3 1085.6 266.4 1064.0 267.9 1051.1C269.3 1038.1 271.0 1019.4 272.9 1007.4C274.8 995.5 279.1 978.2 281.3 967.2C283.4 956.2 286.5 941.3 288.0 930.3C289.4 919.2 289.9 909.8 291.3 890.0C292.8 870.2 296.1 820.4 298.1 792.0C300.0 763.6 303.5 707.2 304.8 691.3C306.1 675.5 306.4 681.3 307.1 681.3C307.8 681.3 308.6 680.3 309.8 691.3C311.0 702.4 314.1 734.5 315.5 758.5C316.9 782.4 318.9 839.0 319.9 859.1C320.8 879.3 321.5 887.8 322.2 899.4C322.9 911.0 324.0 927.3 324.9 940.3C325.8 953.4 327.3 976.8 328.3 990.7C329.2 1004.6 330.2 1023.3 331.6 1037.7C333.0 1052.0 336.4 1076.5 338.3 1091.3C340.2 1106.2 343.1 1130.2 345.0 1141.7C347.0 1153.2 349.8 1164.2 351.7 1171.9C353.7 1179.5 356.1 1188.2 358.5 1195.4C360.9 1202.6 366.1 1216.5 368.5 1222.2C370.9 1228.0 373.1 1232.4 375.2 1235.6C377.4 1238.9 379.8 1243.1 383.6 1245.0C387.5 1247.0 397.5 1247.6 402.1 1249.1C406.6 1250.5 410.2 1253.4 415.5 1255.1C420.8 1256.8 433.7 1259.3 439.0 1260.8C444.3 1262.3 449.1 1264.8 452.4 1265.8C455.8 1266.9 457.2 1267.9 462.5 1268.2C467.8 1268.5 483.6 1269.0 489.3 1268.2C495.1 1267.4 500.1 1264.3 502.8 1262.5C505.4 1260.7 506.6 1259.1 507.8 1255.8C509.0 1252.4 510.2 1242.1 511.1 1239.0C512.1 1235.9 513.5 1233.7 514.5 1234.0C515.5 1234.2 516.7 1238.3 517.9 1240.7C519.1 1243.1 521.6 1248.7 522.9 1250.7C524.2 1252.7 524.7 1253.4 526.7 1254.6C528.7 1255.9 533.4 1259.7 536.8 1259.7C540.1 1259.7 546.4 1256.1 550.2 1254.6C554.0 1253.2 560.5 1251.5 563.6 1249.6C566.7 1247.7 570.1 1244.8 572.0 1241.2C573.9 1237.6 575.6 1227.5 577.0 1224.4C578.5 1221.3 580.7 1218.9 582.1 1219.4C583.4 1219.9 585.2 1224.2 586.4 1227.8C587.6 1231.4 588.9 1240.8 590.5 1244.6C592.0 1248.3 594.8 1252.5 597.2 1254.0C599.6 1255.4 604.4 1255.3 607.2 1254.6C610.1 1254.0 614.7 1250.3 617.3 1249.6C620.0 1248.9 623.1 1248.9 625.7 1249.6C628.3 1250.3 632.7 1254.6 635.8 1254.6C638.9 1254.6 644.4 1251.1 647.5 1249.6C650.6 1248.1 654.9 1246.3 657.6 1243.9C660.2 1241.5 664.1 1237.0 666.0 1232.8C667.9 1228.6 669.6 1221.3 671.0 1214.4C672.4 1207.4 674.6 1189.3 676.0 1184.2C677.5 1179.0 679.6 1178.6 681.1 1178.1C682.5 1177.6 684.2 1178.5 686.1 1180.8C688.0 1183.1 692.1 1190.0 694.5 1194.2C696.9 1198.4 700.5 1208.2 702.9 1210.3C705.3 1212.5 708.9 1209.3 711.3 1209.3C713.7 1209.3 717.0 1208.4 719.7 1210.3C722.3 1212.3 726.6 1219.8 729.7 1222.8C732.8 1225.7 737.9 1229.6 741.5 1231.1C745.1 1232.7 751.8 1233.3 754.9 1233.8C758.0 1234.3 761.1 1233.9 763.3 1234.5C765.4 1235.1 768.1 1237.6 770.0 1237.9C771.9 1238.1 774.8 1237.6 776.7 1236.2C778.6 1234.7 781.5 1230.9 783.4 1227.8C785.3 1224.7 788.2 1218.3 790.1 1214.4C792.1 1210.4 795.2 1202.2 796.8 1200.3C798.5 1198.4 800.2 1198.7 801.9 1200.9C803.6 1203.2 806.7 1212.2 808.6 1216.0C810.5 1219.9 812.9 1224.7 815.3 1227.8C817.7 1230.9 822.5 1235.7 825.4 1237.9C828.2 1240.0 831.6 1242.2 835.4 1242.9C839.3 1243.6 847.9 1242.6 852.2 1242.9C856.5 1243.2 862.3 1245.1 865.6 1245.2C869.0 1245.4 872.3 1244.7 875.7 1243.9C879.1 1243.1 884.8 1240.4 889.1 1239.5C893.4 1238.7 901.1 1238.5 905.9 1237.9C910.7 1237.2 917.9 1235.6 922.7 1235.2C927.5 1234.7 935.4 1235.1 939.5 1234.5C943.5 1233.9 948.3 1231.2 951.2 1231.1C954.1 1231.0 957.4 1232.8 959.9 1233.8C962.5 1234.8 964.9 1237.2 968.9 1238.0C972.9 1238.7 980.7 1239.0 987.8 1239.0C994.9 1239.0 1011.8 1238.6 1018.7 1238.0C1025.5 1237.4 1031.4 1235.2 1035.8 1234.6C1040.2 1233.9 1046.1 1234.3 1049.6 1233.5C1053.0 1232.8 1057.2 1231.0 1059.9 1229.4C1062.5 1227.8 1066.0 1224.1 1068.4 1222.5C1070.9 1221.0 1074.3 1219.3 1077.0 1218.4C1079.7 1217.5 1084.4 1217.5 1087.3 1216.4C1090.3 1215.2 1094.7 1213.3 1097.6 1210.5C1100.6 1207.7 1105.2 1199.5 1107.9 1196.8C1110.6 1194.1 1113.8 1192.6 1116.5 1191.6C1119.2 1190.7 1124.6 1191.4 1126.8 1189.9C1129.0 1188.5 1130.5 1184.8 1131.9 1181.3C1133.4 1177.9 1135.7 1169.1 1137.1 1165.9C1138.5 1162.7 1140.1 1159.8 1141.6 1159.0C1143.0 1158.3 1145.6 1160.0 1147.4 1160.7C1149.2 1161.5 1152.3 1164.2 1154.3 1164.2C1156.2 1164.2 1159.4 1161.0 1161.1 1160.7C1162.8 1160.5 1164.6 1160.5 1166.3 1162.5C1168.0 1164.4 1170.9 1170.6 1173.1 1174.5C1175.3 1178.4 1179.3 1186.7 1181.7 1189.9C1184.2 1193.1 1188.3 1195.8 1190.3 1196.8C1192.3 1197.8 1193.5 1197.8 1195.5 1196.8C1197.4 1195.8 1201.6 1191.4 1204.0 1189.9C1206.5 1188.5 1210.6 1186.6 1212.6 1186.5C1214.7 1186.3 1216.7 1186.4 1218.5 1188.9C1220.2 1191.4 1223.0 1199.6 1224.6 1203.7C1226.2 1207.7 1228.1 1214.7 1229.8 1217.4C1231.5 1220.1 1234.4 1221.7 1236.6 1222.5C1238.9 1223.4 1239.6 1223.4 1245.2 1223.6C1250.9 1223.7 1270.7 1224.2 1276.1 1223.6C1281.5 1222.9 1281.3 1220.1 1283.0 1219.1C1284.7 1218.1 1286.4 1216.5 1288.1 1216.4C1289.9 1216.3 1292.3 1218.0 1295.0 1218.4C1297.7 1218.8 1304.3 1219.6 1307.0 1219.1C1309.7 1218.6 1312.2 1216.1 1313.9 1215.0C1315.6 1213.9 1317.6 1211.2 1319.0 1211.6C1320.5 1211.9 1322.7 1215.8 1324.2 1217.4C1325.7 1219.0 1327.6 1221.9 1329.3 1222.5C1331.1 1223.2 1334.2 1221.8 1336.2 1221.9C1338.2 1222.0 1341.1 1223.1 1343.1 1223.2C1345.0 1223.3 1347.7 1223.2 1349.9 1222.5C1352.1 1221.9 1356.3 1219.2 1358.5 1218.4C1360.7 1217.7 1363.2 1216.9 1365.4 1217.4C1367.6 1217.9 1371.3 1220.5 1374.0 1221.9C1376.7 1223.2 1381.6 1226.2 1384.3 1227.0C1387.0 1227.8 1391.6 1227.6 1392.8 1227.7"/>
<path class="c" stroke="#00cc00" stroke-width="4.2" d="M129.4 2335.0C129.9 2331.4 132.1 2316.5 133.2 2309.8C134.3 2303.1 135.9 2291.5 137.4 2287.8C138.9 2284.1 142.2 2282.3 143.7 2283.6C145.2 2284.9 146.7 2292.4 147.9 2297.2C149.1 2302.0 150.9 2315.0 152.1 2317.1C153.3 2319.2 154.8 2317.4 156.3 2311.9C157.8 2306.4 160.4 2285.8 162.6 2278.3C164.8 2270.8 170.1 2258.9 172.0 2259.5C173.9 2260.1 174.9 2276.5 176.2 2282.5C177.5 2288.5 179.8 2303.5 181.4 2301.4C183.0 2299.3 185.5 2274.4 187.7 2267.8C189.9 2261.2 195.5 2254.1 197.1 2255.3C198.7 2256.5 198.1 2275.9 199.2 2276.2C200.3 2276.5 203.1 2263.1 204.5 2257.4C205.9 2251.7 206.9 2242.4 208.7 2236.4C210.5 2230.4 215.4 2218.3 217.0 2215.5C218.6 2212.7 219.1 2213.8 220.2 2216.7C221.2 2219.6 223.0 2236.1 224.3 2235.6C225.5 2235.1 227.4 2218.3 228.7 2213.3C230.1 2208.3 232.5 2205.3 233.5 2200.5C234.5 2195.7 235.1 2187.0 235.9 2179.8C236.7 2172.6 238.1 2157.3 238.9 2150.3C239.7 2143.3 240.9 2133.2 241.8 2131.1C242.7 2129.0 244.2 2133.9 245.3 2135.6C246.4 2137.3 248.3 2142.9 249.2 2142.9C250.1 2142.9 250.5 2139.6 251.3 2135.6C252.1 2131.6 254.1 2121.2 255.1 2114.9C256.1 2108.6 257.2 2098.9 258.0 2091.3C258.8 2083.7 260.2 2071.1 261.0 2061.8C261.8 2052.5 263.1 2034.8 263.9 2026.4C264.7 2018.0 265.8 2006.9 266.9 2002.7C268.0 1998.5 270.2 1999.1 271.3 1996.8C272.4 1994.5 273.2 1988.8 274.3 1986.5C275.4 1984.2 277.4 1980.8 278.7 1980.6C280.0 1980.4 281.8 1981.8 283.1 1985.0C284.4 1988.2 286.5 1996.8 287.6 2002.7C288.7 2008.6 289.5 2021.1 290.5 2026.4C291.5 2031.7 293.2 2037.9 294.3 2039.6C295.4 2041.3 297.4 2040.1 298.5 2038.2C299.6 2036.3 301.5 2031.5 302.3 2026.4C303.1 2021.3 303.7 2012.4 304.4 2002.7C305.1 1993.0 306.5 1971.1 307.3 1958.5C308.1 1945.9 309.5 1929.0 310.3 1914.2C311.1 1899.4 312.1 1872.1 312.6 1855.2C313.1 1838.3 313.7 1813.0 314.1 1796.1C314.5 1779.2 315.1 1754.0 315.6 1737.1C316.1 1720.2 317.1 1695.0 317.7 1678.1C318.3 1661.2 319.2 1631.7 320.0 1619.0C320.8 1606.3 322.3 1594.8 323.0 1589.5C323.7 1584.2 324.4 1582.1 325.0 1582.1C325.6 1582.1 326.5 1584.2 327.1 1589.5C327.7 1594.8 328.2 1606.3 328.9 1619.0C329.6 1631.7 331.1 1661.2 331.8 1678.1C332.5 1695.0 333.3 1720.2 333.9 1737.1C334.5 1754.0 335.3 1781.3 335.7 1796.1C336.1 1810.9 336.4 1827.7 336.8 1840.4C337.2 1853.1 338.0 1869.9 338.6 1884.7C339.2 1899.5 340.0 1928.9 340.7 1943.7C341.4 1958.5 342.8 1975.3 343.6 1988.0C344.4 2000.7 345.5 2020.9 346.6 2032.3C347.7 2043.7 349.7 2059.3 351.0 2067.7C352.3 2076.1 354.1 2085.0 355.4 2091.3C356.7 2097.6 358.8 2103.5 359.9 2111.9C361.0 2120.3 362.0 2140.6 362.8 2150.3C363.6 2160.0 365.0 2173.9 365.8 2179.8C366.6 2185.7 367.6 2189.5 368.7 2191.6C369.8 2193.7 371.9 2195.4 373.2 2194.6C374.5 2193.8 376.3 2188.2 377.6 2185.7C378.9 2183.2 380.9 2177.7 382.0 2176.9C383.1 2176.1 384.2 2173.9 385.0 2179.8C385.8 2185.7 386.9 2209.3 387.9 2218.2C388.9 2227.1 391.2 2239.3 392.3 2241.8C393.4 2244.3 394.5 2240.5 395.3 2235.9C396.1 2231.3 396.9 2215.7 398.2 2209.4C399.5 2203.1 402.6 2196.2 404.1 2191.6C405.6 2187.0 407.5 2179.0 408.6 2176.9C409.7 2174.8 410.7 2174.4 411.5 2176.9C412.3 2179.4 413.4 2190.0 414.5 2194.6C415.6 2199.2 417.2 2207.3 418.9 2209.4C420.6 2211.5 424.6 2211.1 426.3 2209.4C428.0 2207.7 429.4 2200.7 430.7 2197.5C432.0 2194.3 433.9 2188.5 435.1 2187.2C436.3 2185.9 438.0 2185.5 439.0 2188.7C440.0 2191.9 441.0 2202.2 441.9 2209.4C442.8 2216.6 444.4 2236.4 445.5 2238.9C446.6 2241.4 448.6 2230.1 449.9 2227.1C451.2 2224.1 452.8 2218.8 454.3 2218.2C455.8 2217.6 458.7 2219.6 460.2 2222.6C461.7 2225.6 463.6 2233.2 464.7 2238.9C465.8 2244.6 466.6 2257.9 467.6 2262.5C468.6 2267.1 470.2 2270.9 472.0 2271.3C473.8 2271.7 478.0 2266.6 480.0 2265.4C482.0 2264.2 484.6 2262.4 486.2 2263.1C487.8 2263.7 490.0 2264.8 491.3 2269.9C492.7 2275.0 494.2 2297.4 495.5 2298.9C496.7 2300.4 498.6 2286.1 499.9 2280.2C501.3 2274.4 503.4 2263.8 505.1 2257.9C506.8 2252.0 510.4 2241.2 511.9 2239.0C513.5 2236.8 515.1 2239.5 516.1 2242.5C517.0 2245.4 517.7 2263.8 518.8 2259.6C519.9 2255.5 522.5 2225.8 524.0 2213.3C525.4 2200.8 527.5 2181.2 529.1 2172.1C530.7 2163.0 533.8 2150.8 535.3 2149.8C536.8 2148.8 538.1 2156.2 539.4 2165.2C540.7 2174.3 543.7 2204.2 544.6 2213.3C545.4 2222.4 544.3 2221.8 545.1 2229.0C546.0 2236.1 548.6 2256.4 550.3 2263.3C552.0 2270.2 555.2 2276.3 557.2 2277.0C559.1 2277.8 562.1 2268.7 564.0 2268.4C566.0 2268.2 568.9 2274.1 570.9 2275.3C572.9 2276.5 576.5 2279.2 577.8 2277.0C579.1 2274.8 579.1 2267.6 580.0 2260.0C580.9 2252.4 583.0 2234.6 584.0 2223.6C585.0 2212.6 586.2 2193.4 587.1 2183.3C588.0 2173.2 589.4 2161.7 590.1 2153.0C590.8 2144.3 591.5 2131.3 592.1 2122.7C592.7 2114.1 593.5 2099.7 594.1 2092.5C594.7 2085.3 595.5 2075.8 596.1 2072.3C596.7 2068.8 597.6 2068.9 598.2 2068.2C598.8 2067.5 599.7 2067.3 600.2 2067.5C600.7 2067.7 601.5 2068.5 602.0 2069.5C602.5 2070.5 603.3 2069.6 603.8 2074.3C604.3 2079.0 605.3 2094.1 605.8 2102.5C606.3 2110.9 606.8 2124.1 607.2 2132.8C607.6 2141.5 608.3 2154.4 608.7 2163.1C609.1 2171.8 609.8 2184.8 610.3 2193.4C610.8 2202.0 611.6 2216.4 612.3 2223.6C613.0 2230.8 614.1 2238.9 615.3 2243.8C616.5 2248.7 618.8 2254.2 620.4 2257.9C622.0 2261.6 624.7 2267.0 626.4 2270.0C628.1 2273.0 630.8 2277.7 632.5 2279.1C634.2 2280.5 637.2 2280.1 638.5 2280.1C639.8 2280.1 640.4 2278.2 641.6 2279.1C642.8 2280.0 645.0 2285.8 646.6 2286.2C648.2 2286.6 650.8 2283.4 652.7 2282.2C654.6 2281.0 658.1 2279.5 659.7 2278.1C661.3 2276.7 662.9 2275.6 663.8 2272.1C664.7 2268.6 665.3 2260.8 665.8 2253.9C666.3 2247.0 666.7 2233.7 667.2 2223.6C667.7 2213.5 668.7 2194.8 669.2 2183.3C669.7 2171.8 670.4 2154.4 670.8 2142.9C671.2 2131.4 671.5 2114.0 671.8 2102.5C672.1 2091.0 672.5 2073.7 672.8 2062.2C673.1 2050.7 673.5 2033.3 673.8 2021.8C674.1 2010.3 674.5 1993.0 674.9 1981.5C675.3 1970.0 676.1 1952.6 676.5 1941.1C676.9 1929.6 677.5 1912.2 677.9 1900.7C678.3 1889.2 678.9 1868.7 679.3 1860.4C679.7 1852.1 680.1 1845.7 680.4 1842.5C680.7 1839.3 681.0 1838.0 681.3 1838.0C681.6 1838.0 681.9 1839.3 682.3 1842.5C682.7 1845.7 683.4 1852.1 683.9 1860.4C684.4 1868.7 685.5 1889.2 686.0 1900.7C686.5 1912.2 687.0 1929.6 687.4 1941.1C687.8 1952.6 688.2 1970.0 688.6 1981.5C689.0 1993.0 689.7 2010.3 690.0 2021.8C690.3 2033.3 690.7 2050.7 691.0 2062.2C691.3 2073.7 691.7 2091.0 692.0 2102.5C692.3 2114.0 692.9 2131.4 693.4 2142.9C693.9 2154.4 694.7 2171.8 695.4 2183.3C696.1 2194.8 697.3 2215.0 698.1 2223.6C698.9 2232.2 700.0 2239.0 701.1 2243.8C702.2 2248.6 704.5 2253.6 706.1 2257.0C707.7 2260.4 710.8 2265.1 712.2 2267.5C713.6 2269.9 715.1 2272.0 716.0 2273.5C716.9 2275.0 717.3 2277.3 718.2 2278.0C719.1 2278.7 720.9 2278.5 722.0 2278.6C723.1 2278.7 724.9 2278.9 726.0 2278.4C727.1 2277.9 728.8 2276.6 730.0 2275.0C731.2 2273.4 733.3 2270.2 734.4 2267.5C735.5 2264.8 736.9 2259.9 737.6 2256.0C738.3 2252.1 738.7 2244.6 739.2 2240.0C739.7 2235.4 740.4 2231.7 741.0 2223.6C741.6 2215.5 742.6 2194.8 743.1 2183.3C743.6 2171.8 744.2 2154.4 744.5 2142.9C744.8 2131.4 745.2 2114.0 745.5 2102.5C745.8 2091.0 746.2 2073.7 746.5 2062.2C746.8 2050.7 747.5 2033.3 747.9 2021.8C748.3 2010.3 748.7 1993.0 749.1 1981.5C749.5 1970.0 750.1 1951.2 750.5 1941.1C750.9 1931.0 751.7 1916.9 752.1 1910.8C752.5 1904.7 752.9 1900.7 753.2 1898.5C753.5 1896.3 753.7 1895.5 754.0 1895.5C754.3 1895.5 754.6 1896.3 755.0 1898.5C755.4 1900.7 756.1 1904.7 756.6 1910.8C757.1 1916.9 758.1 1931.0 758.6 1941.1C759.1 1951.2 759.6 1970.0 760.0 1981.5C760.4 1993.0 760.8 2010.3 761.2 2021.8C761.6 2033.3 762.2 2050.7 762.6 2062.2C763.0 2073.7 763.7 2091.0 764.1 2102.5C764.5 2114.0 765.2 2131.4 765.7 2142.9C766.2 2154.4 767.0 2171.8 767.7 2183.3C768.4 2194.8 769.9 2215.0 770.7 2223.6C771.5 2232.2 772.4 2238.9 773.2 2243.8C774.0 2248.7 775.0 2254.1 776.0 2258.0C777.0 2261.9 778.6 2267.5 780.0 2271.0C781.4 2274.5 783.4 2279.3 785.5 2282.2C787.5 2285.0 791.3 2289.0 794.0 2290.7C796.7 2292.5 801.9 2293.4 804.3 2294.2C806.8 2294.9 809.2 2294.9 811.2 2295.9C813.2 2296.9 815.9 2300.4 818.1 2301.0C820.3 2301.7 824.2 2301.1 826.6 2300.4C829.1 2299.6 832.8 2298.0 835.2 2295.9C837.7 2293.8 841.8 2289.3 843.8 2285.6C845.8 2281.9 847.5 2274.6 849.0 2270.2C850.4 2265.7 852.7 2257.3 854.1 2254.7C855.5 2252.2 857.3 2252.1 858.6 2252.3C859.8 2252.5 861.5 2253.9 862.7 2256.4C863.9 2259.0 865.6 2265.7 866.8 2270.2C868.0 2274.6 869.7 2284.1 871.3 2287.3C872.9 2290.5 876.2 2291.0 878.1 2292.5C880.1 2293.9 882.8 2295.7 885.0 2297.6C887.2 2299.6 890.9 2304.6 893.6 2306.2C896.3 2307.8 900.9 2308.5 903.9 2308.6C906.8 2308.7 911.5 2307.5 914.2 2307.2C916.9 2307.0 920.6 2306.7 922.8 2306.9C925.0 2307.1 927.4 2308.6 929.6 2308.6C931.8 2308.6 935.8 2306.7 938.2 2306.9C940.7 2307.0 944.3 2309.1 946.8 2309.6C949.2 2310.1 952.7 2310.6 955.4 2310.3C958.1 2310.1 962.7 2308.4 965.7 2307.9C968.6 2307.5 973.8 2308.7 976.0 2307.2C978.2 2305.8 979.8 2302.4 981.1 2297.6C982.5 2292.8 984.6 2278.8 985.6 2273.6C986.6 2268.3 987.1 2263.3 988.1 2260.9C989.2 2258.5 991.3 2256.3 992.6 2256.8C993.9 2257.3 995.8 2260.3 997.1 2264.3C998.3 2268.4 999.9 2280.0 1001.2 2284.9C1002.5 2289.8 1004.9 2296.1 1006.3 2298.7C1007.8 2301.2 1009.5 2302.3 1011.5 2302.8C1013.5 2303.3 1017.9 2302.4 1020.1 2302.1C1022.3 2301.8 1025.5 2301.4 1026.9 2300.4C1028.4 2299.4 1029.5 2303.8 1030.4 2295.2C1031.2 2286.6 1032.0 2260.4 1032.8 2240.3C1033.5 2220.2 1034.6 2176.5 1035.5 2154.5C1036.4 2132.4 1038.0 2100.0 1039.0 2085.8C1039.9 2071.6 1041.5 2061.1 1042.4 2054.9C1043.3 2048.8 1044.4 2042.9 1045.1 2042.9C1045.9 2042.9 1047.0 2043.9 1047.9 2054.9C1048.7 2066.0 1050.2 2101.0 1051.0 2120.2C1051.8 2139.3 1052.6 2169.2 1053.4 2188.8C1054.1 2208.4 1055.3 2243.7 1056.1 2257.5C1056.9 2271.2 1057.9 2279.1 1058.9 2284.9C1059.8 2290.7 1061.2 2295.0 1063.0 2298.0C1064.8 2300.9 1069.1 2303.2 1071.6 2305.5C1074.0 2307.8 1077.7 2312.0 1080.2 2314.1C1082.6 2316.2 1086.3 2319.3 1088.7 2319.9C1091.2 2320.6 1095.1 2318.9 1097.3 2318.6C1099.5 2318.2 1102.2 2317.3 1104.2 2317.5C1106.1 2317.7 1109.1 2319.9 1111.0 2319.9C1113.0 2319.9 1115.5 2317.9 1117.9 2317.5C1120.4 2317.2 1125.3 2317.5 1128.2 2317.5C1131.2 2317.5 1136.3 2318.0 1138.5 2317.5C1140.7 2317.1 1141.0 2314.6 1143.7 2314.1C1146.4 2313.6 1154.7 2314.8 1157.4 2314.1C1160.1 2313.4 1161.3 2311.4 1162.5 2309.0C1163.8 2306.5 1165.0 2301.4 1166.0 2296.9C1167.0 2292.5 1168.3 2282.0 1169.4 2278.1C1170.5 2274.1 1171.8 2270.6 1173.5 2269.5C1175.2 2268.4 1179.8 2272.7 1181.4 2270.5C1183.0 2268.3 1183.7 2261.3 1184.9 2254.0C1186.0 2246.8 1188.2 2226.3 1189.3 2219.7C1190.4 2213.1 1191.8 2209.2 1192.7 2207.7C1193.7 2206.2 1195.2 2204.7 1196.2 2209.4C1197.2 2214.1 1198.5 2231.5 1199.6 2240.3C1200.7 2249.1 1202.4 2264.1 1203.7 2271.2C1205.1 2278.3 1207.4 2286.9 1208.9 2290.1C1210.4 2293.3 1211.8 2293.0 1214.0 2293.5C1216.2 2294.0 1221.9 2293.8 1224.3 2293.5C1226.8 2293.3 1227.8 2292.0 1231.2 2291.8C1234.6 2291.6 1245.0 2292.4 1248.4 2291.8C1251.7 2291.2 1252.6 2287.9 1254.5 2287.7C1256.5 2287.4 1260.0 2289.6 1262.1 2290.1C1264.2 2290.6 1266.8 2291.2 1269.0 2291.1C1271.2 2291.0 1275.6 2289.4 1277.5 2289.4C1279.5 2289.4 1281.1 2290.4 1282.7 2291.1C1284.3 2291.8 1288.0 2294.1 1288.9 2294.5"/>
<path class="c" stroke="#ff0000" stroke-width="4.2" d="M130.2 2539.2C130.8 2540.4 133.2 2547.5 134.3 2547.8C135.5 2548.0 137.0 2545.1 138.4 2540.9C139.9 2536.7 143.2 2522.0 144.6 2518.6C146.1 2515.2 147.8 2515.4 148.7 2516.9C149.7 2518.3 150.1 2526.2 151.5 2528.9C152.9 2531.6 156.4 2536.5 158.4 2535.8C160.3 2535.0 163.5 2527.7 165.2 2523.7C166.9 2519.8 169.1 2510.5 170.4 2508.3C171.6 2506.1 172.8 2507.1 173.8 2508.3C174.8 2509.5 176.3 2515.9 177.2 2516.9C178.2 2517.9 179.7 2512.7 180.7 2515.2C181.7 2517.6 182.9 2535.3 184.1 2534.0C185.3 2532.8 187.9 2511.5 189.3 2506.6C190.6 2501.7 192.1 2499.5 193.4 2499.7C194.6 2499.9 196.6 2505.3 197.8 2508.3C199.1 2511.2 200.7 2519.6 202.3 2520.3C203.9 2521.0 207.1 2514.2 209.2 2513.4C211.2 2512.7 214.9 2515.2 216.7 2515.2C218.5 2515.2 220.3 2511.5 221.9 2513.4C223.4 2515.4 226.2 2529.9 227.7 2528.9C229.2 2527.9 230.8 2513.7 232.2 2506.6C233.5 2499.5 235.8 2484.5 237.3 2479.1C238.8 2473.7 241.1 2472.5 242.5 2468.8C243.8 2465.1 245.6 2453.9 246.9 2453.4C248.3 2452.9 250.4 2467.6 251.7 2465.4C253.1 2463.2 255.6 2441.8 256.2 2437.9C256.8 2434.0 255.0 2441.0 256.2 2437.9C257.4 2434.8 262.8 2419.8 264.5 2416.0C266.2 2412.2 267.2 2412.9 268.1 2411.0C269.0 2409.1 270.2 2404.6 271.1 2402.9C272.0 2401.2 273.7 2398.7 274.6 2399.4C275.5 2400.1 276.8 2405.2 277.5 2407.5C278.2 2409.8 278.9 2414.7 279.8 2415.7C280.7 2416.7 282.8 2416.0 283.9 2414.5C285.0 2413.0 286.5 2406.9 287.4 2405.2C288.3 2403.5 289.2 2402.8 290.3 2402.9C291.4 2403.0 293.6 2405.6 294.9 2405.8C296.2 2406.0 298.4 2405.1 299.6 2404.0C300.8 2402.9 302.1 2399.1 303.1 2398.2C304.1 2397.3 305.4 2397.1 306.6 2397.6C307.8 2398.1 310.0 2400.6 311.2 2401.7C312.4 2402.8 314.0 2404.7 315.0 2405.0C316.0 2405.3 317.2 2406.0 318.2 2404.0C319.2 2402.0 320.7 2395.2 321.7 2391.2C322.7 2387.2 324.2 2381.6 325.2 2376.1C326.2 2370.6 327.7 2359.5 328.7 2352.8C329.7 2346.1 331.3 2337.8 332.2 2329.5C333.1 2321.2 334.4 2304.6 335.1 2294.6C335.8 2284.6 336.7 2269.7 337.4 2259.7C338.1 2249.7 339.1 2234.8 339.7 2224.8C340.3 2214.8 341.0 2199.8 341.5 2189.8C342.0 2179.8 342.8 2169.0 343.2 2154.9C343.6 2140.8 344.2 2108.8 344.6 2091.3C345.0 2073.8 345.7 2049.2 346.2 2032.3C346.7 2015.4 347.3 1990.1 347.8 1973.2C348.3 1956.3 349.1 1929.0 349.6 1914.2C350.1 1899.4 351.0 1880.9 351.6 1869.9C352.2 1858.9 352.8 1845.4 354.0 1837.4C355.2 1829.4 358.6 1819.0 359.9 1813.8C361.2 1808.6 362.4 1803.3 363.0 1801.0C363.6 1798.7 363.9 1797.4 364.3 1797.4C364.7 1797.4 365.0 1798.7 365.6 1801.0C366.2 1803.3 367.7 1806.1 368.7 1813.8C369.7 1821.5 371.5 1840.9 372.3 1855.2C373.1 1869.5 373.8 1897.3 374.6 1914.2C375.4 1931.1 376.8 1956.3 377.6 1973.2C378.4 1990.1 379.7 2015.4 380.5 2032.3C381.3 2049.2 382.1 2076.5 382.9 2091.3C383.7 2106.1 384.9 2125.1 385.8 2135.6C386.7 2146.1 388.3 2156.7 389.4 2165.1C390.5 2173.5 392.5 2186.2 393.8 2194.6C395.1 2203.0 396.9 2214.0 398.2 2224.1C399.5 2234.2 401.4 2257.4 402.7 2265.4C404.0 2273.4 405.8 2274.7 407.1 2280.2C408.4 2285.7 410.3 2297.9 411.5 2303.8C412.7 2309.7 414.0 2317.7 415.8 2321.2C417.7 2324.7 422.4 2325.6 424.4 2328.1C426.4 2330.5 428.2 2334.9 429.6 2338.4C430.9 2341.8 432.5 2353.6 433.7 2352.1C434.9 2350.6 436.8 2334.4 438.1 2328.1C439.5 2321.7 442.2 2311.8 443.3 2307.5C444.3 2303.2 444.7 2301.4 445.5 2297.9C446.3 2294.4 448.2 2289.4 449.0 2283.1C449.8 2276.8 450.7 2260.3 451.4 2253.6C452.1 2246.9 452.9 2238.8 453.7 2235.9C454.5 2233.0 455.9 2232.6 456.7 2233.0C457.5 2233.4 458.5 2234.7 459.6 2238.9C460.7 2243.1 463.3 2255.3 464.7 2262.5C466.1 2269.7 468.0 2281.6 469.1 2289.0C470.2 2296.4 471.3 2305.8 472.5 2314.3C473.7 2322.9 476.3 2338.4 477.6 2348.7C478.9 2359.0 480.3 2377.6 481.7 2386.4C483.2 2395.2 486.1 2403.6 487.9 2410.4C489.8 2417.3 493.1 2429.6 494.8 2434.5C496.5 2439.4 498.5 2445.8 499.9 2444.8C501.4 2443.8 503.6 2433.3 505.1 2427.6C506.6 2422.0 509.0 2407.8 510.2 2405.3C511.5 2402.8 512.5 2406.8 513.7 2410.4C514.8 2414.1 516.7 2429.6 518.1 2431.0C519.6 2432.5 522.6 2421.2 524.0 2420.7C525.3 2420.3 526.2 2423.4 527.4 2427.6C528.6 2431.8 531.1 2447.5 532.5 2449.9C534.0 2452.4 536.6 2445.4 537.7 2444.8C538.8 2444.1 539.1 2443.0 540.0 2445.2C540.9 2447.5 542.9 2456.5 544.1 2460.7C545.3 2464.8 546.8 2472.7 548.6 2474.4C550.3 2476.1 554.7 2477.8 556.5 2472.7C558.3 2467.5 560.0 2452.6 561.3 2438.4C562.6 2424.1 564.6 2394.7 565.7 2373.1C566.9 2351.6 568.3 2309.4 569.2 2287.3C570.0 2265.2 570.8 2230.9 571.6 2218.7C572.3 2206.4 573.5 2203.5 574.3 2201.5C575.1 2199.5 576.3 2197.6 577.1 2204.9C577.8 2212.3 578.6 2231.4 579.5 2253.0C580.3 2274.6 581.7 2331.9 582.9 2356.0C584.1 2380.0 586.6 2408.0 588.1 2421.2C589.5 2434.4 591.5 2441.8 593.2 2448.7C594.9 2455.5 598.1 2464.1 600.1 2469.3C602.0 2474.4 605.2 2480.8 606.9 2484.7C608.7 2488.6 610.8 2493.8 612.1 2496.7C613.4 2499.7 614.5 2504.8 616.2 2505.3C617.9 2505.8 622.0 2501.0 624.1 2500.2C626.2 2499.3 629.3 2499.2 631.0 2499.5C632.7 2499.7 634.4 2502.5 636.1 2501.9C637.8 2501.2 641.0 2497.2 643.0 2495.0C644.9 2492.8 647.9 2490.6 649.9 2486.4C651.8 2482.3 654.7 2472.7 656.7 2465.8C658.8 2459.0 662.6 2447.2 664.3 2438.4C666.0 2429.5 667.5 2414.8 668.7 2404.0C670.0 2393.2 672.0 2370.9 673.2 2362.8C674.4 2354.7 676.1 2348.9 677.3 2347.4C678.5 2345.9 680.2 2348.9 681.4 2352.5C682.7 2356.2 684.5 2366.5 685.9 2373.1C687.3 2379.8 689.7 2397.9 691.0 2398.9C692.4 2399.9 694.1 2386.6 695.2 2380.0C696.2 2373.4 697.5 2358.5 698.6 2352.5C699.7 2346.6 701.7 2340.2 703.1 2338.1C704.4 2336.1 707.0 2341.0 708.2 2338.1C709.4 2335.3 710.8 2331.7 711.6 2318.2C712.5 2304.7 713.5 2263.1 714.2 2243.8C714.9 2224.5 715.6 2198.1 716.2 2183.3C716.8 2168.5 717.9 2148.1 718.3 2140.0C718.7 2131.9 719.0 2126.5 719.3 2126.5C719.6 2126.5 720.0 2134.8 720.4 2140.0C720.8 2145.2 721.6 2151.2 722.3 2163.1C723.0 2175.0 724.4 2206.3 725.3 2223.6C726.2 2240.9 727.5 2267.6 728.3 2284.2C729.1 2300.8 730.3 2329.2 731.0 2339.9C731.7 2350.6 732.0 2357.2 732.9 2359.4C733.8 2361.6 736.1 2355.5 737.4 2355.3C738.7 2355.0 740.7 2353.7 741.9 2357.7C743.0 2361.7 744.1 2373.9 745.3 2383.4C746.5 2393.0 748.9 2413.8 750.1 2424.6C751.3 2435.4 752.4 2450.9 753.5 2459.0C754.7 2467.1 756.6 2476.4 758.0 2481.3C759.4 2486.2 761.2 2491.1 763.1 2493.3C765.1 2495.5 769.3 2494.8 771.7 2496.7C774.2 2498.7 777.6 2504.8 780.3 2507.0C783.0 2509.2 788.1 2511.3 790.6 2512.2C793.2 2513.1 795.9 2512.0 798.2 2513.2C800.4 2514.4 803.9 2519.8 806.0 2520.8C808.2 2521.7 811.0 2521.3 812.9 2520.1C814.9 2518.8 817.8 2516.0 819.8 2512.2C821.7 2508.3 824.9 2498.9 826.6 2493.3C828.4 2487.6 830.6 2477.0 831.8 2472.7C833.0 2468.4 834.2 2464.2 835.2 2463.1C836.2 2462.0 837.7 2462.5 838.7 2465.1C839.6 2467.7 840.6 2477.7 842.1 2481.3C843.6 2484.8 847.2 2488.1 849.0 2489.9C850.7 2491.6 852.6 2491.6 854.1 2493.3C855.6 2495.0 857.1 2500.4 859.3 2501.9C861.5 2503.3 867.4 2502.1 869.6 2503.6C871.8 2505.1 873.2 2509.8 874.7 2512.2C876.2 2514.5 877.9 2519.1 879.9 2520.1C881.8 2521.0 886.5 2518.0 888.4 2519.0C890.4 2520.1 892.0 2524.9 893.6 2527.6C895.2 2530.3 898.1 2536.9 899.8 2537.9C901.5 2538.9 903.9 2536.0 905.6 2534.5C907.3 2533.0 910.0 2532.5 911.4 2527.6C912.9 2522.7 914.8 2508.0 915.9 2500.2C917.0 2492.3 918.2 2478.0 919.3 2472.7C920.5 2467.4 922.7 2463.8 923.8 2463.1C924.9 2462.3 926.2 2464.9 927.2 2467.5C928.2 2470.1 929.2 2479.5 930.7 2481.3C932.1 2483.1 936.1 2479.0 937.5 2480.2C939.0 2481.5 939.9 2484.1 941.0 2489.9C942.0 2495.6 943.8 2513.4 945.1 2520.8C946.4 2528.1 948.8 2538.4 950.2 2541.3C951.7 2544.3 953.7 2543.3 955.4 2541.3C957.1 2539.4 960.3 2530.3 962.2 2527.6C964.2 2524.9 967.1 2522.7 969.1 2522.5C971.1 2522.2 974.0 2523.2 976.0 2525.9C977.9 2528.6 980.8 2538.4 982.8 2541.3C984.9 2544.3 987.8 2544.9 990.1 2546.5C992.3 2548.1 996.5 2550.6 998.4 2552.8C1000.4 2554.9 1002.3 2560.9 1003.9 2561.3C1005.6 2561.8 1008.0 2557.9 1009.8 2556.2C1011.6 2554.5 1014.9 2550.5 1016.6 2549.3C1018.4 2548.2 1020.3 2547.6 1021.8 2548.3C1023.3 2549.0 1025.5 2552.4 1026.9 2554.5C1028.4 2556.6 1030.6 2562.1 1032.1 2563.1C1033.6 2564.0 1036.0 2563.6 1037.2 2561.3C1038.5 2559.1 1039.8 2554.5 1040.7 2547.6C1041.5 2540.7 1042.3 2521.6 1043.1 2513.3C1043.8 2504.9 1045.0 2493.7 1045.8 2489.3C1046.6 2484.8 1047.8 2482.4 1048.6 2482.4C1049.4 2482.4 1050.5 2484.4 1051.3 2489.3C1052.1 2494.2 1053.5 2509.4 1054.4 2516.7C1055.3 2524.1 1056.7 2536.1 1057.8 2540.7C1059.0 2545.4 1060.6 2548.1 1062.3 2549.3C1064.0 2550.6 1067.8 2550.6 1069.9 2549.3C1071.9 2548.1 1074.5 2543.0 1076.7 2540.7C1078.9 2538.5 1082.6 2535.6 1085.3 2533.9C1088.0 2532.2 1093.4 2531.7 1095.6 2528.7C1097.8 2525.8 1099.3 2518.2 1100.7 2513.3C1102.2 2508.4 1104.2 2499.6 1105.9 2494.4C1107.6 2489.3 1111.0 2480.7 1112.8 2477.2C1114.5 2473.8 1116.7 2470.9 1117.9 2470.4C1119.1 2469.9 1120.1 2470.6 1121.3 2473.8C1122.6 2477.0 1124.9 2488.1 1126.5 2492.7C1128.1 2497.2 1130.9 2503.7 1132.3 2505.7C1133.8 2507.8 1135.5 2508.7 1136.8 2507.1C1138.1 2505.5 1140.0 2497.9 1141.3 2494.4C1142.5 2490.9 1144.2 2484.1 1145.4 2482.4C1146.6 2480.7 1148.1 2480.4 1149.5 2482.4C1150.9 2484.4 1153.2 2493.7 1155.0 2496.1C1156.8 2498.6 1160.0 2497.6 1161.9 2499.6C1163.7 2501.5 1165.9 2506.9 1167.7 2509.9C1169.5 2512.8 1172.3 2517.9 1174.6 2520.2C1176.8 2522.4 1181.2 2523.3 1183.1 2525.3C1185.1 2527.3 1186.3 2532.4 1188.3 2533.9C1190.2 2535.4 1194.9 2534.5 1196.9 2535.6C1198.8 2536.7 1200.5 2540.0 1202.0 2541.4C1203.5 2542.9 1205.7 2545.8 1207.2 2545.9C1208.6 2546.0 1210.8 2544.4 1212.3 2542.5C1213.8 2540.5 1216.1 2535.4 1217.5 2532.2C1218.8 2529.0 1220.4 2522.2 1221.6 2520.2C1222.8 2518.1 1224.7 2517.3 1226.0 2517.7C1227.4 2518.2 1228.7 2522.4 1231.2 2523.6C1233.7 2524.8 1240.8 2526.8 1243.2 2526.3C1245.7 2525.8 1246.9 2522.3 1248.4 2520.2C1249.8 2518.0 1251.6 2513.0 1253.5 2511.6C1255.5 2510.1 1260.1 2510.6 1262.1 2509.9C1264.1 2509.1 1266.0 2508.9 1267.2 2506.4C1268.5 2504.0 1269.8 2498.1 1270.7 2492.7C1271.5 2487.3 1272.3 2474.3 1273.1 2468.7C1273.8 2463.0 1275.0 2455.2 1275.8 2453.2C1276.6 2451.2 1277.8 2453.5 1278.6 2454.9C1279.3 2456.4 1280.4 2460.6 1281.0 2463.5C1281.6 2466.5 1282.4 2473.8 1282.7 2475.5"/>
<path class="c" stroke="#000000" stroke-width="4.0" d="M129.6 2707.0C133.7 2705.1 151.3 2697.5 158.4 2693.7C165.4 2689.8 173.6 2684.1 179.0 2679.9C184.4 2675.8 191.7 2669.1 196.1 2664.5C200.5 2659.8 205.9 2653.2 209.9 2647.3C213.8 2641.4 219.9 2630.6 223.6 2623.3C227.3 2615.9 232.9 2603.2 235.6 2595.8C238.3 2588.5 240.7 2579.2 242.5 2571.8C244.2 2564.4 246.1 2553.2 247.6 2544.3C249.1 2535.5 251.5 2520.3 252.8 2510.0C254.0 2499.7 255.0 2484.5 256.2 2472.2C257.4 2460.0 259.6 2435.5 261.3 2424.2C263.1 2412.9 266.4 2401.8 268.2 2393.3C270.0 2384.8 272.7 2373.6 274.0 2364.5C275.3 2355.4 276.5 2339.5 277.5 2329.5C278.5 2319.5 280.2 2304.6 281.0 2294.6C281.8 2284.6 282.6 2269.7 283.3 2259.7C284.0 2249.7 284.9 2234.8 285.6 2224.8C286.3 2214.8 287.7 2199.8 288.5 2189.8C289.3 2179.8 290.6 2161.9 291.4 2154.9C292.2 2147.9 293.4 2143.5 294.0 2141.0C294.6 2138.5 295.1 2137.6 295.5 2137.6C295.9 2137.6 296.4 2138.5 297.0 2141.0C297.6 2143.5 298.8 2147.9 299.6 2154.9C300.4 2161.9 301.6 2179.8 302.5 2189.8C303.4 2199.8 305.2 2214.8 306.0 2224.8C306.8 2234.8 307.6 2249.7 308.3 2259.7C309.0 2269.7 310.4 2284.6 311.2 2294.6C312.0 2304.6 313.3 2319.5 314.1 2329.5C314.9 2339.5 316.2 2355.3 317.0 2364.5C317.8 2373.7 319.2 2385.7 320.0 2393.6C320.8 2401.5 321.5 2410.6 322.9 2419.9C324.3 2429.2 327.5 2447.1 330.0 2458.5C332.5 2469.9 337.4 2487.9 340.3 2499.7C343.2 2511.5 347.4 2530.6 350.6 2540.9C353.8 2551.2 359.2 2564.2 362.6 2571.8C366.0 2579.4 371.2 2589.9 374.6 2594.1C378.1 2598.3 383.7 2598.3 386.6 2601.0C389.6 2603.7 392.0 2608.3 395.2 2613.0C398.4 2617.6 405.0 2628.4 409.0 2633.6C412.9 2638.7 418.8 2645.6 422.7 2649.0C426.6 2652.5 432.0 2655.4 436.4 2657.6C440.8 2659.8 449.2 2663.3 453.6 2664.5C458.0 2665.7 464.1 2665.7 467.3 2666.2C470.5 2666.7 474.2 2668.7 475.9 2667.9C477.6 2667.2 478.4 2665.0 479.3 2661.1C480.3 2657.1 481.9 2644.4 482.8 2640.5C483.6 2636.5 484.7 2633.1 485.5 2633.6C486.3 2634.1 487.5 2640.0 488.6 2643.9C489.7 2647.8 491.4 2657.4 493.1 2661.1C494.7 2664.7 497.2 2667.9 499.9 2669.6C502.6 2671.3 508.8 2672.7 511.9 2673.1C515.1 2673.4 519.3 2672.8 522.2 2672.0C525.2 2671.3 529.8 2669.2 532.5 2667.9C535.2 2666.6 539.3 2665.3 541.1 2662.8C542.9 2660.2 543.8 2653.7 545.1 2649.9C546.5 2646.0 549.1 2638.3 550.3 2636.1C551.5 2633.9 552.8 2633.2 553.7 2634.4C554.7 2635.6 556.2 2641.3 557.2 2644.7C558.1 2648.1 559.4 2655.8 560.6 2658.4C561.8 2661.0 564.0 2662.7 565.7 2662.9C567.5 2663.1 570.4 2662.3 572.6 2660.2C574.8 2658.0 579.2 2652.1 581.2 2648.1C583.2 2644.2 584.9 2638.3 586.3 2632.7C587.8 2627.0 590.0 2612.8 591.5 2608.7C593.0 2604.5 595.2 2605.5 596.6 2603.5C598.1 2601.5 600.3 2598.6 601.8 2594.9C603.3 2591.2 605.5 2583.2 606.9 2577.8C608.4 2572.4 610.6 2566.3 612.1 2557.2C613.6 2548.0 615.8 2521.0 617.2 2513.9C618.7 2506.7 620.9 2507.3 622.4 2507.0C623.9 2506.8 626.1 2508.2 627.5 2512.2C629.0 2516.1 631.2 2529.1 632.7 2534.5C634.2 2539.9 636.4 2547.7 637.8 2549.9C639.3 2552.1 641.5 2551.4 643.0 2549.9C644.5 2548.5 646.7 2541.1 648.1 2539.6C649.6 2538.2 652.1 2537.4 653.3 2539.6C654.5 2541.8 656.0 2550.1 656.7 2555.1C657.5 2560.0 657.7 2567.2 658.4 2574.3C659.2 2581.5 660.6 2598.1 661.9 2605.2C663.1 2612.3 665.3 2619.2 667.0 2624.1C668.7 2629.0 671.9 2636.8 673.9 2639.6C675.8 2642.3 678.8 2643.3 680.7 2643.7C682.7 2644.1 685.4 2641.7 687.6 2642.3C689.8 2642.9 693.8 2646.8 696.2 2648.1C698.6 2649.5 702.0 2652.1 704.1 2651.6C706.2 2651.1 709.1 2647.9 711.0 2644.7C712.8 2641.5 715.2 2632.5 716.8 2629.3C718.4 2626.0 720.5 2622.2 721.9 2621.7C723.4 2621.2 725.6 2624.0 727.1 2625.8C728.6 2627.6 730.5 2632.8 732.2 2634.4C734.0 2636.0 737.2 2635.8 739.1 2636.8C741.0 2637.8 743.6 2641.6 745.3 2641.3C747.0 2640.9 749.7 2635.9 751.1 2634.4C752.6 2632.9 754.1 2630.2 755.6 2631.0C757.1 2631.7 759.6 2636.6 761.4 2639.6C763.2 2642.5 766.1 2648.6 768.3 2651.6C770.5 2654.5 773.7 2658.0 776.9 2660.2C780.1 2662.3 786.4 2664.7 790.6 2666.3C794.8 2667.9 801.1 2670.4 806.0 2671.5C811.0 2672.6 820.3 2674.0 824.9 2673.9C829.6 2673.7 834.7 2671.9 838.7 2670.4C842.6 2669.0 849.2 2665.2 852.4 2663.6C855.6 2662.0 859.0 2660.3 861.0 2659.5C862.9 2658.6 864.7 2657.3 866.1 2657.4C867.6 2657.5 869.6 2659.3 871.3 2660.2C873.0 2661.0 874.5 2663.1 878.1 2663.6C881.8 2664.1 892.9 2663.2 897.0 2663.6C901.2 2664.0 904.4 2665.9 907.3 2666.3C910.3 2666.7 914.7 2666.6 917.6 2666.3C920.6 2666.0 924.5 2664.9 927.9 2664.3C931.3 2663.6 938.2 2662.0 941.6 2661.9C945.1 2661.8 948.0 2663.8 951.9 2663.6C955.9 2663.3 964.7 2660.7 969.1 2660.2C973.5 2659.6 979.5 2660.3 982.8 2659.5C986.2 2658.6 990.0 2656.0 992.6 2654.0C995.2 2652.0 999.1 2647.2 1001.2 2645.5C1003.3 2643.7 1005.2 2641.9 1007.4 2642.0C1009.6 2642.2 1013.6 2645.5 1016.6 2646.5C1019.7 2647.5 1025.7 2648.3 1028.7 2648.9C1031.6 2649.5 1035.0 2650.8 1037.2 2650.6C1039.4 2650.4 1041.7 2649.1 1044.1 2647.2C1046.6 2645.2 1051.7 2639.3 1054.4 2636.9C1057.1 2634.4 1060.8 2631.5 1063.0 2630.0C1065.2 2628.5 1067.6 2628.3 1069.9 2626.6C1072.1 2624.9 1075.7 2620.9 1078.4 2618.0C1081.1 2615.0 1086.0 2608.4 1088.7 2606.0C1091.4 2603.5 1095.4 2602.5 1097.3 2600.8C1099.3 2599.1 1101.0 2598.1 1102.5 2594.0C1103.9 2589.8 1106.1 2579.7 1107.6 2571.6C1109.1 2563.6 1111.5 2545.7 1112.8 2537.3C1114.0 2529.0 1115.3 2517.8 1116.2 2513.3C1117.1 2508.8 1118.0 2506.0 1118.9 2505.7C1119.9 2505.5 1121.7 2506.1 1123.1 2511.6C1124.4 2517.1 1126.7 2534.6 1128.2 2544.2C1129.7 2553.7 1132.1 2572.4 1133.4 2578.5C1134.6 2584.6 1135.3 2584.6 1136.8 2587.1C1138.3 2589.5 1141.9 2592.0 1143.7 2595.7C1145.4 2599.4 1147.1 2608.2 1148.8 2612.8C1150.5 2617.5 1153.7 2625.3 1155.7 2628.3C1157.6 2631.2 1158.6 2632.7 1162.5 2633.4C1166.5 2634.2 1178.7 2633.2 1183.1 2633.4C1187.6 2633.7 1191.0 2635.5 1193.4 2635.2C1195.9 2634.8 1198.6 2632.1 1200.3 2630.7C1202.0 2629.3 1204.0 2625.6 1205.5 2625.5C1206.9 2625.4 1208.4 2628.8 1210.6 2630.0C1212.8 2631.2 1218.0 2633.4 1220.9 2634.1C1223.8 2634.9 1228.3 2635.1 1231.2 2635.2C1234.1 2635.2 1239.0 2635.7 1241.5 2634.5C1243.9 2633.2 1246.4 2629.3 1248.4 2626.6C1250.3 2623.9 1253.7 2617.8 1255.2 2615.6C1256.8 2613.4 1258.1 2611.0 1259.3 2611.1C1260.6 2611.2 1262.4 2614.3 1263.8 2616.3C1265.2 2618.2 1267.2 2622.8 1269.0 2624.9C1270.7 2626.9 1273.6 2628.7 1275.8 2630.7C1278.0 2632.7 1282.0 2636.6 1284.4 2638.6C1286.9 2640.5 1291.8 2643.6 1293.0 2644.4"/>
<g><text class="si" font-size="61.00" transform="translate(131.90 67.30) scale(0.9565 1.0000)" stroke="#000" stroke-width="1.7" stroke-linejoin="round">ν</text>
<text class="sb" font-size="36.00" transform="translate(158.05 67.30) scale(1.0777 0.9600)" stroke="#fff" stroke-width="0.3">as</text>
<text class="sb" font-size="61.00" transform="translate(194.75 67.30) scale(1.1361 0.9700)" stroke="#fff" stroke-width="1.0">(</text>
<text class="sb" font-size="61.00" transform="translate(215.74 67.30) scale(1.1283 1.0000)" stroke="#fff" stroke-width="1.0">C</text>
<text class="sr" font-size="61.00" transform="translate(258.58 62.95) scale(1.1908 0.8000)" stroke="#000" stroke-width="0.5">=</text>
<text class="sb" font-size="61.00" transform="translate(296.90 67.30) scale(1.0749 1.0000)" stroke="#fff" stroke-width="1.0">O</text>
<text class="sb" font-size="61.00" transform="translate(343.15 67.30) scale(1.1425 0.9700)" stroke="#fff" stroke-width="1.0">)</text>
<text class="sr" font-size="61.00" transform="translate(363.73 70.12) scale(1.2084 1.0900)">+</text>
<text class="si" font-size="61.00" transform="translate(403.12 67.30) scale(0.9337 1.0000)" stroke="#000" stroke-width="1.7" stroke-linejoin="round">ν</text>
<text class="sb" font-size="36.00" transform="translate(429.05 67.30) scale(1.4201 0.9600)" stroke="#fff" stroke-width="0.3">s</text>
<text class="sb" font-size="61.00" transform="translate(450.84 67.30) scale(1.1425 0.9700)" stroke="#fff" stroke-width="1.0">(</text>
<text class="sb" font-size="61.00" transform="translate(471.07 67.30) scale(1.1502 1.0000)" stroke="#fff" stroke-width="1.0">C</text>
<text class="sr" font-size="61.00" transform="translate(514.05 62.95) scale(1.2330 0.8000)" stroke="#000" stroke-width="0.5">=</text>
<text class="sb" font-size="61.00" transform="translate(552.25 67.30) scale(1.0918 1.0000)" stroke="#fff" stroke-width="1.0">O</text>
<text class="sb" font-size="61.00" transform="translate(599.25 67.30) scale(1.1425 0.9700)" stroke="#fff" stroke-width="1.0">)</text>
</g>
<g><text class="si" font-size="61.00" transform="translate(478.30 357.50) scale(0.9565 1.0000)" stroke="#000" stroke-width="1.7" stroke-linejoin="round">ν</text>
<text class="sb" font-size="36.00" transform="translate(504.39 357.50) scale(1.1268 0.9600)" stroke="#fff" stroke-width="0.3">as,s</text>
<text class="sb" font-size="61.00" transform="translate(568.66 357.50) scale(1.0978 0.9700)" stroke="#fff" stroke-width="1.0">(</text>
<text class="sb" font-size="61.00" transform="translate(588.83 357.50) scale(1.1310 1.0000)" stroke="#fff" stroke-width="1.0">C</text>
<text class="sr" font-size="61.00" transform="translate(632.99 354.29) scale(1.1991 0.7200)">-</text>
<text class="sb" font-size="61.00" transform="translate(655.00 357.50) scale(1.0749 1.0000)" stroke="#fff" stroke-width="1.0">O</text>
<text class="sb" font-size="61.00" transform="translate(701.27 357.50) scale(1.1361 0.9700)" stroke="#fff" stroke-width="1.0">)</text>
<text class="sr" font-size="61.00" transform="translate(721.73 360.32) scale(1.2084 1.0900)">+</text>
<path d="M793.4 338.5C791 334.5 786 333.6 781 335.2C773 337.6 767.6 344 767.8 350.5C768 355.6 772.5 357.6 777 356.8C785 355.4 792.6 348 793.5 340C794 334 789 330 785 326.8C781.5 324 779.6 322 780.4 320C781.3 317.9 785 317.6 790 318.2C795 318.8 799.5 320.3 802 322.6" fill="none" stroke="#000" stroke-width="3.2" stroke-linecap="round"/>
<path d="M793 335.8C790 331 786 327.8 782.3 324.8" fill="none" stroke="#000" stroke-width="5.6" stroke-linecap="round"/>
<path d="M784 319.4C789 319 796 320 801 322" fill="none" stroke="#000" stroke-width="5.2" stroke-linecap="round"/>
<path d="M768.6 346C768 350 768.6 354 771 355.6" fill="none" stroke="#000" stroke-width="4.8" stroke-linecap="round"/>
<ellipse cx="801.8" cy="322.6" rx="3.6" ry="3.6" fill="#000"/>
<text class="sb" font-size="61.00" transform="translate(797.56 357.50) scale(1.0978 0.9700)" stroke="#fff" stroke-width="1.0">(</text>
<text class="sb" font-size="61.00" transform="translate(817.96 357.50) scale(1.0542 1.0000)" stroke="#fff" stroke-width="1.0">C</text>
<text class="sb" font-size="61.00" transform="translate(862.63 357.50) scale(1.0266 1.0000)" stroke="#fff" stroke-width="1.0">H</text>
<text class="sb" font-size="61.00" transform="translate(909.11 357.50) scale(0.9638 0.9700)" stroke="#fff" stroke-width="1.0">)</text>
</g>
<g transform="translate(162.4 1539.6) scale(0.943) translate(-131.2 -67.3)"><text class="si" font-size="61.00" transform="translate(131.90 67.30) scale(0.9565 1.0000)" stroke="#000" stroke-width="1.7" stroke-linejoin="round">ν</text>
<text class="sb" font-size="36.00" transform="translate(158.05 67.30) scale(1.0777 0.9600)" stroke="#fff" stroke-width="0.3">as</text>
<text class="sb" font-size="61.00" transform="translate(194.75 67.30) scale(1.1361 0.9700)" stroke="#fff" stroke-width="1.0">(</text>
<text class="sb" font-size="61.00" transform="translate(215.74 67.30) scale(1.1283 1.0000)" stroke="#fff" stroke-width="1.0">C</text>
<text class="sr" font-size="61.00" transform="translate(258.58 62.95) scale(1.1908 0.8000)" stroke="#000" stroke-width="0.5">=</text>
<text class="sb" font-size="61.00" transform="translate(296.90 67.30) scale(1.0749 1.0000)" stroke="#fff" stroke-width="1.0">O</text>
<text class="sb" font-size="61.00" transform="translate(343.15 67.30) scale(1.1425 0.9700)" stroke="#fff" stroke-width="1.0">)</text>
<text class="sr" font-size="61.00" transform="translate(363.73 70.12) scale(1.2084 1.0900)">+</text>
<text class="si" font-size="61.00" transform="translate(403.12 67.30) scale(0.9337 1.0000)" stroke="#000" stroke-width="1.7" stroke-linejoin="round">ν</text>
<text class="sb" font-size="36.00" transform="translate(429.05 67.30) scale(1.4201 0.9600)" stroke="#fff" stroke-width="0.3">s</text>
<text class="sb" font-size="61.00" transform="translate(450.84 67.30) scale(1.1425 0.9700)" stroke="#fff" stroke-width="1.0">(</text>
<text class="sb" font-size="61.00" transform="translate(471.07 67.30) scale(1.1502 1.0000)" stroke="#fff" stroke-width="1.0">C</text>
<text class="sr" font-size="61.00" transform="translate(514.05 62.95) scale(1.2330 0.8000)" stroke="#000" stroke-width="0.5">=</text>
<text class="sb" font-size="61.00" transform="translate(552.25 67.30) scale(1.0918 1.0000)" stroke="#fff" stroke-width="1.0">O</text>
<text class="sb" font-size="61.00" transform="translate(599.25 67.30) scale(1.1425 0.9700)" stroke="#fff" stroke-width="1.0">)</text>
</g>
<g transform="translate(468.4 1799.8) scale(0.938) translate(-477.6 -357.5)"><text class="si" font-size="61.00" transform="translate(478.30 357.50) scale(0.9565 1.0000)" stroke="#000" stroke-width="1.7" stroke-linejoin="round">ν</text>
<text class="sb" font-size="36.00" transform="translate(504.39 357.50) scale(1.1268 0.9600)" stroke="#fff" stroke-width="0.3">as,s</text>
<text class="sb" font-size="61.00" transform="translate(568.66 357.50) scale(1.0978 0.9700)" stroke="#fff" stroke-width="1.0">(</text>
<text class="sb" font-size="61.00" transform="translate(588.83 357.50) scale(1.1310 1.0000)" stroke="#fff" stroke-width="1.0">C</text>
<text class="sr" font-size="61.00" transform="translate(632.99 354.29) scale(1.1991 0.7200)">-</text>
<text class="sb" font-size="61.00" transform="translate(655.00 357.50) scale(1.0749 1.0000)" stroke="#fff" stroke-width="1.0">O</text>
<text class="sb" font-size="61.00" transform="translate(701.27 357.50) scale(1.1361 0.9700)" stroke="#fff" stroke-width="1.0">)</text>
<text class="sr" font-size="61.00" transform="translate(721.73 360.32) scale(1.2084 1.0900)">+</text>
<path d="M793.4 338.5C791 334.5 786 333.6 781 335.2C773 337.6 767.6 344 767.8 350.5C768 355.6 772.5 357.6 777 356.8C785 355.4 792.6 348 793.5 340C794 334 789 330 785 326.8C781.5 324 779.6 322 780.4 320C781.3 317.9 785 317.6 790 318.2C795 318.8 799.5 320.3 802 322.6" fill="none" stroke="#000" stroke-width="3.2" stroke-linecap="round"/>
<path d="M793 335.8C790 331 786 327.8 782.3 324.8" fill="none" stroke="#000" stroke-width="5.6" stroke-linecap="round"/>
<path d="M784 319.4C789 319 796 320 801 322" fill="none" stroke="#000" stroke-width="5.2" stroke-linecap="round"/>
<path d="M768.6 346C768 350 768.6 354 771 355.6" fill="none" stroke="#000" stroke-width="4.8" stroke-linecap="round"/>
<ellipse cx="801.8" cy="322.6" rx="3.6" ry="3.6" fill="#000"/>
<text class="sb" font-size="61.00" transform="translate(797.56 357.50) scale(1.0978 0.9700)" stroke="#fff" stroke-width="1.0">(</text>
<text class="sb" font-size="61.00" transform="translate(817.96 357.50) scale(1.0542 1.0000)" stroke="#fff" stroke-width="1.0">C</text>
<text class="sb" font-size="61.00" transform="translate(862.63 357.50) scale(1.0266 1.0000)" stroke="#fff" stroke-width="1.0">H</text>
<text class="sb" font-size="61.00" transform="translate(909.11 357.50) scale(0.9638 0.9700)" stroke="#fff" stroke-width="1.0">)</text>
</g>
<text class="sb" font-size="44.00" transform="translate(999.96 1429.30) scale(1.0242 0.9750)" stroke="#fff" stroke-width="0.3">Wavenumber (1/cm)</text>
<text class="sb" font-size="41.40" transform="translate(960.00 2832.60) scale(1.0219 0.9750)" stroke="#fff" stroke-width="0.3">Wavenumber (1/cm)</text>
<text class="sb" font-size="47.30" stroke="#fff" stroke-width="0.6" transform="translate(61.10 928.16) rotate(-90) scale(0.9818 1)">IR Intensity (arb. units)</text>
<text class="sb" font-size="44.30" stroke="#fff" stroke-width="0.6" transform="translate(82.20 2358.78) rotate(-90) scale(0.9913 1)">IR Intensity (arb. units)</text>
<text class="ss" font-size="48.10" fill="#08081a" transform="translate(186.76 1382.00) scale(1 0.980)">1650</text>
<text class="ss" font-size="48.10" fill="#08081a" transform="translate(428.01 1382.00) scale(1 0.980)">1500</text>
<text class="ss" font-size="48.10" fill="#08081a" transform="translate(668.66 1382.00) scale(1 0.980)">1350</text>
<text class="ss" font-size="48.10" fill="#08081a" transform="translate(909.91 1382.00) scale(1 0.980)">1200</text>
<text class="ss" font-size="48.10" fill="#08081a" transform="translate(1150.96 1382.00) scale(1 0.980)">1050</text>
<text class="ss" font-size="48.10" fill="#08081a" transform="translate(1285.61 1382.00) scale(1 0.980)">975</text>
<text class="ss" font-size="45.50" fill="#08081a" transform="translate(195.40 2784.30) scale(1 0.955)">1650</text>
<text class="ss" font-size="45.50" fill="#08081a" transform="translate(421.40 2784.30) scale(1 0.955)">1500</text>
<text class="ss" font-size="45.50" fill="#08081a" transform="translate(646.80 2784.30) scale(1 0.955)">1350</text>
<text class="ss" font-size="45.50" fill="#08081a" transform="translate(872.40 2784.30) scale(1 0.955)">1200</text>
<text class="ss" font-size="45.50" fill="#08081a" transform="translate(1098.30 2784.30) scale(1 0.955)">1050</text>
<text class="ss" font-size="45.50" fill="#08081a" transform="translate(1224.93 2784.30) scale(1 0.955)">975</text>
</svg>
</body></html>
